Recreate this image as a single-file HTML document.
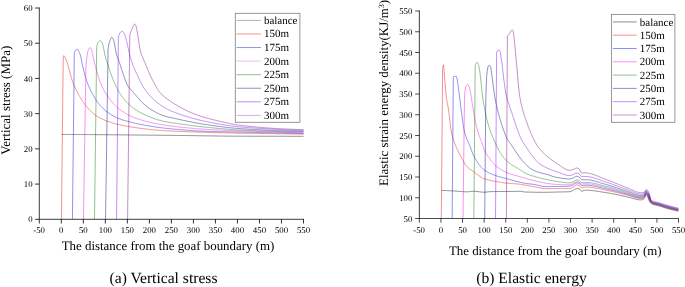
<!DOCTYPE html>
<html lang="en">
<head>
<meta charset="utf-8">
<title>Vertical stress and elastic energy</title>
<style>
html,body{margin:0;padding:0;background:#fff;}
body{width:685px;height:287px;overflow:hidden;}
svg{display:block;text-rendering:geometricPrecision;}
</style>
</head>
<body>
<svg width="685" height="287" viewBox="0 0 685 287" font-family='"Liberation Serif", "DejaVu Serif", serif' fill="#000">
<rect width="685" height="287" fill="#fff"/>
<g fill="none" stroke-width="0.45" stroke-linejoin="round">
<path d="M61.40,134.40 L61.60,134.40 L61.80,134.40 L62.00,134.40 L62.20,134.41 L62.40,134.41 L62.60,134.41 L62.80,134.41 L63.00,134.41 L63.20,134.41 L63.40,134.41 L63.60,134.41 L63.80,134.42 L64.00,134.42 L64.20,134.42 L64.40,134.42 L64.60,134.42 L64.80,134.42 L65.00,134.42 L65.20,134.43 L65.40,134.43 L65.60,134.43 L65.80,134.43 L66.00,134.43 L66.20,134.43 L66.40,134.43 L66.60,134.43 L66.80,134.44 L67.00,134.44 L67.20,134.44 L67.40,134.44 L67.60,134.44 L67.80,134.44 L68.00,134.44 L68.20,134.45 L68.40,134.45 L68.60,134.45 L68.80,134.45 L69.00,134.45 L69.20,134.45 L69.40,134.45 L69.60,134.46 L69.80,134.46 L70.00,134.46 L70.20,134.46 L70.40,134.46 L70.60,134.46 L70.80,134.46 L71.00,134.47 L71.20,134.47 L71.40,134.47 L71.60,134.47 L71.80,134.47 L72.00,134.47 L72.20,134.47 L72.40,134.48 L72.60,134.48 L72.80,134.48 L73.00,134.48 L73.20,134.48 L73.40,134.48 L73.60,134.48 L73.80,134.49 L74.00,134.49 L74.20,134.49 L74.40,134.49 L74.60,134.49 L74.80,134.49 L75.00,134.49 L75.20,134.50 L75.40,134.50 L75.60,134.50 L75.80,134.50 L76.00,134.50 L76.20,134.50 L76.40,134.50 L76.60,134.51 L76.80,134.51 L77.00,134.51 L77.20,134.51 L77.40,134.51 L77.60,134.51 L77.80,134.51 L78.00,134.52 L78.20,134.52 L78.40,134.52 L78.60,134.52 L78.80,134.52 L79.00,134.52 L79.20,134.52 L79.40,134.53 L79.60,134.53 L79.80,134.53 L80.00,134.53 L80.20,134.53 L80.40,134.53 L80.60,134.54 L80.80,134.54 L81.00,134.54 L81.20,134.54 L81.40,134.54 L81.60,134.54 L81.80,134.54 L82.00,134.55 L82.20,134.55 L82.40,134.55 L82.60,134.55 L82.80,134.55 L83.00,134.55 L83.20,134.55 L83.40,134.56 L83.60,134.56 L83.80,134.56 L84.00,134.56 L84.20,134.56 L84.40,134.56 L84.60,134.57 L84.80,134.57 L85.00,134.57 L85.20,134.57 L85.40,134.57 L85.60,134.57 L85.80,134.57 L86.00,134.58 L86.20,134.58 L86.40,134.58 L86.60,134.58 L86.80,134.58 L87.00,134.58 L87.20,134.59 L87.40,134.59 L87.60,134.59 L87.80,134.59 L88.00,134.59 L88.20,134.59 L88.40,134.59 L88.60,134.60 L88.80,134.60 L89.00,134.60 L89.20,134.60 L89.40,134.60 L89.60,134.60 L89.80,134.61 L90.00,134.61 L90.20,134.61 L90.40,134.61 L90.60,134.61 L90.80,134.61 L91.00,134.62 L91.20,134.62 L91.40,134.62 L91.90,134.62 L92.40,134.63 L92.90,134.63 L93.40,134.63 L93.90,134.64 L94.40,134.64 L94.90,134.65 L95.40,134.65 L95.90,134.65 L96.40,134.66 L96.90,134.66 L97.40,134.67 L97.90,134.67 L98.40,134.68 L98.90,134.68 L99.40,134.68 L99.90,134.69 L100.40,134.69 L100.90,134.70 L101.40,134.70 L101.90,134.70 L102.40,134.71 L102.90,134.71 L103.40,134.72 L103.90,134.72 L104.40,134.73 L104.90,134.73 L105.40,134.73 L105.90,134.74 L106.40,134.74 L106.90,134.75 L107.40,134.75 L107.90,134.75 L108.40,134.76 L108.90,134.76 L109.40,134.77 L109.90,134.77 L110.40,134.78 L110.90,134.78 L111.40,134.79 L111.90,134.79 L112.40,134.79 L112.90,134.80 L113.40,134.80 L113.90,134.81 L114.40,134.81 L114.90,134.82 L115.40,134.82 L115.90,134.82 L116.40,134.83 L116.90,134.83 L117.40,134.84 L117.90,134.84 L118.40,134.85 L118.90,134.85 L119.40,134.86 L119.90,134.86 L120.40,134.87 L120.90,134.87 L121.40,134.87 L121.90,134.88 L122.40,134.88 L122.90,134.89 L123.40,134.89 L123.90,134.90 L124.40,134.90 L124.90,134.91 L125.40,134.91 L125.90,134.92 L126.40,134.92 L126.90,134.92 L127.40,134.93 L127.90,134.93 L128.40,134.94 L128.90,134.94 L129.40,134.95 L129.90,134.95 L130.40,134.96 L130.90,134.96 L131.40,134.97 L131.90,134.97 L132.40,134.98 L132.90,134.98 L133.40,134.99 L133.90,134.99 L134.40,134.99 L134.90,135.00 L135.40,135.00 L135.90,135.01 L136.40,135.01 L136.90,135.02 L137.40,135.02 L137.90,135.03 L138.40,135.03 L138.90,135.04 L139.40,135.04 L139.90,135.05 L140.40,135.05 L140.90,135.06 L141.40,135.06 L141.90,135.07 L142.40,135.07 L142.90,135.08 L143.40,135.08 L143.90,135.09 L144.40,135.09 L144.90,135.10 L145.40,135.10 L145.90,135.11 L146.40,135.11 L146.90,135.12 L147.40,135.12 L147.90,135.13 L148.40,135.13 L148.90,135.13 L149.40,135.14 L149.90,135.14 L150.40,135.15 L150.90,135.15 L151.40,135.16 L151.90,135.16 L152.40,135.17 L152.90,135.17 L153.40,135.18 L153.90,135.18 L154.40,135.19 L154.90,135.19 L155.40,135.20 L155.90,135.20 L156.40,135.21 L156.90,135.21 L157.40,135.22 L157.90,135.22 L158.40,135.23 L158.90,135.23 L159.40,135.24 L159.90,135.24 L160.40,135.25 L160.90,135.25 L161.40,135.26 L161.90,135.27 L162.40,135.27 L162.90,135.28 L163.40,135.28 L163.90,135.29 L164.40,135.29 L164.90,135.30 L165.40,135.30 L165.90,135.31 L166.40,135.31 L166.90,135.32 L167.40,135.32 L167.90,135.33 L168.40,135.33 L168.90,135.34 L169.40,135.34 L169.90,135.35 L170.40,135.35 L170.90,135.36 L171.40,135.36 L171.90,135.37 L172.40,135.37 L172.90,135.38 L173.40,135.38 L173.90,135.39 L174.40,135.39 L174.90,135.40 L175.40,135.40 L175.90,135.41 L176.40,135.41 L176.90,135.42 L177.40,135.43 L177.90,135.43 L178.40,135.44 L178.90,135.44 L179.40,135.45 L179.90,135.46 L180.40,135.46 L180.90,135.47 L181.40,135.47 L181.90,135.48 L182.40,135.49 L182.90,135.49 L183.40,135.50 L183.90,135.51 L184.40,135.51 L184.90,135.52 L185.40,135.53 L185.90,135.53 L186.40,135.54 L186.90,135.55 L187.40,135.56 L187.90,135.56 L188.40,135.57 L188.90,135.58 L189.40,135.58 L189.90,135.59 L190.40,135.60 L190.90,135.61 L191.40,135.61 L191.90,135.62 L192.40,135.63 L192.90,135.64 L193.40,135.64 L193.90,135.65 L194.40,135.66 L194.90,135.67 L195.40,135.67 L195.90,135.68 L196.40,135.69 L196.90,135.70 L197.40,135.71 L197.90,135.71 L198.40,135.72 L198.90,135.73 L199.40,135.74 L199.90,135.74 L200.40,135.75 L200.90,135.76 L201.40,135.77 L201.90,135.78 L202.40,135.78 L202.90,135.79 L203.40,135.80 L203.90,135.81 L204.40,135.81 L204.90,135.82 L205.40,135.83 L205.90,135.84 L206.40,135.85 L206.90,135.85 L207.40,135.86 L207.90,135.87 L208.40,135.88 L208.90,135.88 L209.40,135.89 L209.90,135.90 L210.40,135.91 L210.90,135.91 L211.40,135.92 L211.90,135.93 L212.40,135.93 L212.90,135.94 L213.40,135.95 L213.90,135.96 L214.40,135.96 L214.90,135.97 L215.40,135.98 L215.90,135.98 L216.40,135.99 L216.90,136.00 L217.40,136.00 L217.90,136.01 L218.40,136.02 L218.90,136.02 L219.40,136.03 L219.90,136.04 L220.40,136.04 L220.90,136.05 L221.40,136.05 L221.90,136.06 L222.40,136.07 L222.90,136.07 L223.40,136.08 L223.90,136.08 L224.40,136.09 L224.90,136.09 L225.40,136.10 L225.90,136.10 L226.40,136.11 L226.90,136.11 L227.40,136.12 L227.90,136.12 L228.40,136.13 L228.90,136.13 L229.40,136.14 L229.90,136.14 L230.40,136.15 L230.90,136.15 L231.40,136.15 L231.90,136.16 L232.40,136.16 L232.90,136.16 L233.40,136.17 L233.90,136.17 L234.40,136.17 L234.90,136.18 L235.40,136.18 L235.90,136.18 L236.40,136.19 L236.90,136.19 L237.40,136.19 L237.90,136.19 L238.40,136.19 L238.90,136.20 L239.40,136.20 L239.90,136.20 L240.40,136.20 L240.90,136.20 L241.40,136.20 L241.90,136.21 L242.40,136.21 L242.90,136.21 L243.40,136.21 L243.90,136.21 L244.40,136.21 L244.90,136.21 L245.40,136.21 L245.90,136.22 L246.40,136.22 L246.90,136.22 L247.40,136.22 L247.90,136.22 L248.40,136.22 L248.90,136.22 L249.40,136.22 L249.90,136.23 L250.40,136.23 L250.90,136.23 L251.40,136.23 L251.90,136.23 L252.40,136.23 L252.90,136.23 L253.40,136.23 L253.90,136.24 L254.40,136.24 L254.90,136.24 L255.40,136.24 L255.90,136.24 L256.40,136.24 L256.90,136.24 L257.40,136.24 L257.90,136.25 L258.40,136.25 L258.90,136.25 L259.40,136.25 L259.90,136.25 L260.40,136.25 L260.90,136.25 L261.40,136.25 L261.90,136.25 L262.40,136.25 L262.90,136.26 L263.40,136.26 L263.90,136.26 L264.40,136.26 L264.90,136.26 L265.40,136.26 L265.90,136.26 L266.40,136.26 L266.90,136.26 L267.40,136.26 L267.90,136.27 L268.40,136.27 L268.90,136.27 L269.40,136.27 L269.90,136.27 L270.40,136.27 L270.90,136.27 L271.40,136.27 L271.90,136.27 L272.40,136.27 L272.90,136.27 L273.40,136.27 L273.90,136.28 L274.40,136.28 L274.90,136.28 L275.40,136.28 L275.90,136.28 L276.40,136.28 L276.90,136.28 L277.40,136.28 L277.90,136.28 L278.40,136.28 L278.90,136.28 L279.40,136.28 L279.90,136.28 L280.40,136.28 L280.90,136.29 L281.40,136.29 L281.90,136.29 L282.40,136.29 L282.90,136.29 L283.40,136.29 L283.90,136.29 L284.40,136.29 L284.90,136.29 L285.40,136.29 L285.90,136.29 L286.40,136.29 L286.90,136.29 L287.40,136.29 L287.90,136.29 L288.40,136.29 L288.90,136.29 L289.40,136.29 L289.90,136.29 L290.40,136.29 L290.90,136.30 L291.40,136.30 L291.90,136.30 L292.40,136.30 L292.90,136.30 L293.40,136.30 L293.90,136.30 L294.40,136.30 L294.90,136.30 L295.40,136.30 L295.90,136.30 L296.40,136.30 L296.90,136.30 L297.40,136.30 L297.90,136.30 L298.40,136.30 L298.90,136.30 L299.40,136.30 L299.90,136.30 L300.40,136.30 L300.90,136.30 L301.40,136.30 L301.90,136.30 L302.40,136.30 L302.90,136.30 L303.40,136.30 L303.60,136.30" stroke="#000000"/>
<path d="M61.40,219.30 L63.20,60.00 L63.40,57.70 L63.60,55.89 L63.80,55.61 L64.00,55.69 L64.20,55.85 L64.40,56.08 L64.60,56.36 L64.80,56.70 L65.00,57.08 L65.20,57.49 L65.40,57.94 L65.60,58.40 L65.80,58.88 L66.00,59.36 L66.20,59.83 L66.40,60.30 L66.60,60.78 L66.80,61.32 L67.00,61.90 L67.20,62.53 L67.40,63.19 L67.60,63.88 L67.80,64.59 L68.00,65.33 L68.20,66.09 L68.40,66.86 L68.60,67.63 L68.80,68.41 L69.00,69.18 L69.20,69.95 L69.40,70.70 L69.60,71.44 L69.80,72.15 L70.00,72.84 L70.20,73.54 L70.40,74.25 L70.60,74.96 L70.80,75.67 L71.00,76.39 L71.20,77.09 L71.40,77.79 L71.60,78.47 L71.80,79.14 L72.00,79.79 L72.20,80.41 L72.40,81.01 L72.60,81.58 L72.80,82.13 L73.00,82.67 L73.20,83.19 L73.40,83.69 L73.60,84.18 L73.80,84.66 L74.00,85.13 L74.20,85.60 L74.40,86.05 L74.60,86.50 L74.80,86.94 L75.00,87.39 L75.20,87.82 L75.40,88.25 L75.60,88.68 L75.80,89.11 L76.00,89.53 L76.20,89.94 L76.40,90.36 L76.60,90.76 L76.80,91.17 L77.00,91.57 L77.20,91.96 L77.40,92.35 L77.60,92.74 L77.80,93.12 L78.00,93.50 L78.20,93.87 L78.40,94.24 L78.60,94.61 L78.80,94.97 L79.00,95.33 L79.20,95.68 L79.40,96.03 L79.60,96.37 L79.80,96.71 L80.00,97.05 L80.20,97.39 L80.40,97.72 L80.60,98.06 L80.80,98.39 L81.00,98.71 L81.20,99.04 L81.40,99.36 L81.60,99.68 L81.80,99.99 L82.00,100.30 L82.20,100.61 L82.40,100.92 L82.60,101.22 L82.80,101.52 L83.00,101.81 L83.20,102.11 L83.40,102.39 L83.60,102.68 L83.80,102.96 L84.00,103.23 L84.20,103.50 L84.40,103.77 L84.60,104.04 L84.80,104.30 L85.00,104.55 L85.20,104.80 L85.40,105.05 L85.60,105.29 L85.80,105.54 L86.00,105.78 L86.20,106.03 L86.40,106.27 L86.60,106.51 L86.80,106.75 L87.00,106.99 L87.20,107.23 L87.40,107.47 L87.60,107.70 L87.80,107.93 L88.00,108.17 L88.20,108.40 L88.40,108.62 L88.60,108.85 L88.80,109.08 L89.00,109.30 L89.20,109.52 L89.40,109.74 L89.60,109.96 L89.80,110.18 L90.00,110.39 L90.20,110.60 L90.40,110.81 L90.60,111.02 L90.80,111.22 L91.00,111.42 L91.20,111.62 L91.40,111.82 L91.60,112.02 L91.80,112.21 L92.00,112.40 L92.20,112.59 L92.40,112.77 L92.60,112.95 L92.80,113.13 L93.00,113.31 L93.20,113.48 L93.70,113.90 L94.20,114.30 L94.70,114.67 L95.20,115.03 L95.70,115.37 L96.20,115.70 L96.70,116.02 L97.20,116.33 L97.70,116.64 L98.20,116.93 L98.70,117.22 L99.20,117.50 L99.70,117.78 L100.20,118.04 L100.70,118.30 L101.20,118.56 L101.70,118.80 L102.20,119.04 L102.70,119.28 L103.20,119.51 L103.70,119.73 L104.20,119.95 L104.70,120.16 L105.20,120.37 L105.70,120.57 L106.20,120.77 L106.70,120.96 L107.20,121.15 L107.70,121.34 L108.20,121.52 L108.70,121.70 L109.20,121.87 L109.70,122.04 L110.20,122.20 L110.70,122.37 L111.20,122.52 L111.70,122.68 L112.20,122.83 L112.70,122.98 L113.20,123.12 L113.70,123.27 L114.20,123.40 L114.70,123.54 L115.20,123.67 L115.70,123.80 L116.20,123.93 L116.70,124.06 L117.20,124.18 L117.70,124.30 L118.20,124.42 L118.70,124.54 L119.20,124.66 L119.70,124.77 L120.20,124.88 L120.70,124.99 L121.20,125.10 L121.70,125.20 L122.20,125.31 L122.70,125.41 L123.20,125.51 L123.70,125.61 L124.20,125.70 L124.70,125.80 L125.20,125.89 L125.70,125.98 L126.20,126.08 L126.70,126.17 L127.20,126.26 L127.70,126.34 L128.20,126.43 L128.70,126.52 L129.20,126.60 L129.70,126.69 L130.20,126.77 L130.70,126.86 L131.20,126.94 L131.70,127.02 L132.20,127.10 L132.70,127.18 L133.20,127.26 L133.70,127.34 L134.20,127.42 L134.70,127.50 L135.20,127.58 L135.70,127.65 L136.20,127.73 L136.70,127.80 L137.20,127.87 L137.70,127.95 L138.20,128.02 L138.70,128.09 L139.20,128.16 L139.70,128.23 L140.20,128.29 L140.70,128.36 L141.20,128.42 L141.70,128.49 L142.20,128.55 L142.70,128.61 L143.20,128.67 L143.70,128.73 L144.20,128.80 L144.70,128.86 L145.20,128.92 L145.70,128.98 L146.20,129.04 L146.70,129.09 L147.20,129.15 L147.70,129.21 L148.20,129.27 L148.70,129.32 L149.20,129.38 L149.70,129.44 L150.20,129.49 L150.70,129.55 L151.20,129.60 L151.70,129.65 L152.20,129.70 L152.70,129.76 L153.20,129.81 L153.70,129.86 L154.20,129.90 L154.70,129.95 L155.20,130.00 L155.70,130.05 L156.20,130.09 L156.70,130.13 L157.20,130.18 L157.70,130.22 L158.20,130.26 L158.70,130.30 L159.20,130.33 L159.70,130.37 L160.20,130.41 L160.70,130.44 L161.20,130.48 L161.70,130.51 L162.20,130.54 L162.70,130.57 L163.20,130.60 L163.70,130.63 L164.20,130.66 L164.70,130.69 L165.20,130.72 L165.70,130.75 L166.20,130.78 L166.70,130.80 L167.20,130.83 L167.70,130.86 L168.20,130.88 L168.70,130.91 L169.20,130.93 L169.70,130.96 L170.20,130.98 L170.70,131.00 L171.20,131.03 L171.70,131.05 L172.20,131.07 L172.70,131.10 L173.20,131.12 L173.70,131.14 L174.20,131.16 L174.70,131.19 L175.20,131.21 L175.70,131.23 L176.20,131.25 L176.70,131.27 L177.20,131.30 L177.70,131.32 L178.20,131.34 L178.70,131.36 L179.20,131.38 L179.70,131.40 L180.20,131.42 L180.70,131.44 L181.20,131.46 L181.70,131.48 L182.20,131.50 L182.70,131.52 L183.20,131.54 L183.70,131.56 L184.20,131.58 L184.70,131.60 L185.20,131.62 L185.70,131.64 L186.20,131.66 L186.70,131.68 L187.20,131.70 L187.70,131.72 L188.20,131.74 L188.70,131.76 L189.20,131.77 L189.70,131.79 L190.20,131.81 L190.70,131.83 L191.20,131.85 L191.70,131.86 L192.20,131.88 L192.70,131.90 L193.20,131.92 L193.70,131.93 L194.20,131.95 L194.70,131.97 L195.20,131.99 L195.70,132.00 L196.20,132.02 L196.70,132.04 L197.20,132.05 L197.70,132.07 L198.20,132.09 L198.70,132.10 L199.20,132.12 L199.70,132.13 L200.20,132.15 L200.70,132.17 L201.20,132.18 L201.70,132.20 L202.20,132.21 L202.70,132.23 L203.20,132.24 L203.70,132.26 L204.20,132.28 L204.70,132.29 L205.20,132.31 L205.70,132.32 L206.20,132.34 L206.70,132.35 L207.20,132.37 L207.70,132.38 L208.20,132.40 L208.70,132.41 L209.20,132.43 L209.70,132.44 L210.20,132.46 L210.70,132.47 L211.20,132.49 L211.70,132.50 L212.20,132.51 L212.70,132.53 L213.20,132.54 L213.70,132.56 L214.20,132.57 L214.70,132.59 L215.20,132.60 L215.70,132.62 L216.20,132.63 L216.70,132.64 L217.20,132.66 L217.70,132.67 L218.20,132.69 L218.70,132.70 L219.20,132.71 L219.70,132.73 L220.20,132.74 L220.70,132.75 L221.20,132.77 L221.70,132.78 L222.20,132.79 L222.70,132.81 L223.20,132.82 L223.70,132.83 L224.20,132.85 L224.70,132.86 L225.20,132.87 L225.70,132.88 L226.20,132.90 L226.70,132.91 L227.20,132.92 L227.70,132.93 L228.20,132.95 L228.70,132.96 L229.20,132.97 L229.70,132.98 L230.20,132.99 L230.70,133.01 L231.20,133.02 L231.70,133.03 L232.20,133.04 L232.70,133.05 L233.20,133.06 L233.70,133.07 L234.20,133.08 L234.70,133.09 L235.20,133.11 L235.70,133.12 L236.20,133.13 L236.70,133.14 L237.20,133.15 L237.70,133.16 L238.20,133.17 L238.70,133.18 L239.20,133.19 L239.70,133.19 L240.20,133.20 L240.70,133.21 L241.20,133.22 L241.70,133.23 L242.20,133.24 L242.70,133.25 L243.20,133.26 L243.70,133.26 L244.20,133.27 L244.70,133.28 L245.20,133.29 L245.70,133.30 L246.20,133.31 L246.70,133.31 L247.20,133.32 L247.70,133.33 L248.20,133.34 L248.70,133.34 L249.20,133.35 L249.70,133.36 L250.20,133.37 L250.70,133.37 L251.20,133.38 L251.70,133.39 L252.20,133.39 L252.70,133.40 L253.20,133.41 L253.70,133.41 L254.20,133.42 L254.70,133.43 L255.20,133.43 L255.70,133.44 L256.20,133.45 L256.70,133.45 L257.20,133.46 L257.70,133.46 L258.20,133.47 L258.70,133.48 L259.20,133.48 L259.70,133.49 L260.20,133.50 L260.70,133.50 L261.20,133.51 L261.70,133.51 L262.20,133.52 L262.70,133.53 L263.20,133.53 L263.70,133.54 L264.20,133.54 L264.70,133.55 L265.20,133.56 L265.70,133.56 L266.20,133.57 L266.70,133.57 L267.20,133.58 L267.70,133.59 L268.20,133.59 L268.70,133.60 L269.20,133.60 L269.70,133.61 L270.20,133.62 L270.70,133.62 L271.20,133.63 L271.70,133.63 L272.20,133.64 L272.70,133.65 L273.20,133.65 L273.70,133.66 L274.20,133.67 L274.70,133.67 L275.20,133.68 L275.70,133.68 L276.20,133.69 L276.70,133.70 L277.20,133.70 L277.70,133.71 L278.20,133.72 L278.70,133.72 L279.20,133.73 L279.70,133.74 L280.20,133.75 L280.70,133.75 L281.20,133.76 L281.70,133.77 L282.20,133.77 L282.70,133.78 L283.20,133.79 L283.70,133.80 L284.20,133.80 L284.70,133.81 L285.20,133.82 L285.70,133.83 L286.20,133.84 L286.70,133.84 L287.20,133.85 L287.70,133.86 L288.20,133.87 L288.70,133.88 L289.20,133.89 L289.70,133.89 L290.20,133.90 L290.70,133.91 L291.20,133.92 L291.70,133.93 L292.20,133.94 L292.70,133.95 L293.20,133.96 L293.70,133.97 L294.20,133.98 L294.70,133.99 L295.20,134.00 L295.70,134.02 L296.20,134.03 L296.70,134.04 L297.20,134.05 L297.70,134.06 L298.20,134.07 L298.70,134.08 L299.20,134.10 L299.70,134.11 L300.20,134.12 L300.70,134.13 L301.20,134.14 L301.70,134.15 L302.20,134.17 L302.70,134.18 L303.20,134.19 L303.60,134.20" stroke="#e60a0a"/>
<path d="M72.43,219.30 L74.30,53.50 L74.50,52.78 L74.70,52.09 L74.90,51.45 L75.10,50.91 L75.30,50.48 L75.50,50.20 L75.70,50.00 L75.90,49.82 L76.10,49.66 L76.30,49.52 L76.50,49.40 L76.70,49.30 L76.90,49.24 L77.10,49.20 L77.30,49.22 L77.50,49.33 L77.70,49.54 L77.90,49.82 L78.10,50.16 L78.30,50.54 L78.50,50.93 L78.70,51.31 L78.90,51.68 L79.10,52.07 L79.30,52.47 L79.50,52.91 L79.70,53.38 L79.90,53.88 L80.10,54.43 L80.30,55.02 L80.50,55.66 L80.70,56.38 L80.90,57.31 L81.10,58.40 L81.30,59.56 L81.50,60.73 L81.70,61.81 L81.90,62.76 L82.10,63.64 L82.30,64.48 L82.50,65.30 L82.70,66.10 L82.90,66.90 L83.10,67.71 L83.30,68.52 L83.50,69.35 L83.70,70.17 L83.90,71.00 L84.10,71.82 L84.30,72.63 L84.50,73.43 L84.70,74.22 L84.90,74.99 L85.10,75.73 L85.30,76.45 L85.50,77.14 L85.70,77.80 L85.90,78.43 L86.10,79.06 L86.30,79.67 L86.50,80.27 L86.70,80.86 L86.90,81.44 L87.10,82.01 L87.30,82.57 L87.50,83.12 L87.70,83.66 L87.90,84.19 L88.10,84.71 L88.30,85.22 L88.50,85.72 L88.70,86.21 L88.90,86.69 L89.10,87.17 L89.30,87.63 L89.50,88.09 L89.70,88.54 L89.90,88.98 L90.10,89.42 L90.30,89.84 L90.50,90.26 L90.70,90.67 L90.90,91.08 L91.10,91.47 L91.30,91.87 L91.50,92.25 L91.70,92.63 L91.90,93.01 L92.10,93.38 L92.30,93.74 L92.50,94.10 L92.70,94.46 L92.90,94.81 L93.10,95.16 L93.30,95.50 L93.50,95.84 L93.70,96.18 L93.90,96.51 L94.10,96.85 L94.30,97.18 L94.50,97.50 L94.70,97.83 L94.90,98.15 L95.10,98.48 L95.30,98.80 L95.50,99.12 L95.70,99.44 L95.90,99.76 L96.10,100.08 L96.30,100.39 L96.50,100.70 L96.70,101.01 L96.90,101.31 L97.10,101.60 L97.30,101.90 L97.50,102.18 L97.70,102.46 L97.90,102.73 L98.10,103.00 L98.30,103.25 L98.50,103.50 L98.70,103.74 L98.90,103.98 L99.10,104.22 L99.30,104.46 L99.50,104.69 L99.70,104.92 L99.90,105.15 L100.10,105.38 L100.30,105.60 L100.50,105.83 L100.70,106.05 L100.90,106.26 L101.10,106.48 L101.30,106.69 L101.50,106.91 L101.70,107.12 L101.90,107.32 L102.10,107.53 L102.30,107.73 L102.50,107.93 L102.70,108.13 L102.90,108.33 L103.10,108.52 L103.30,108.71 L103.50,108.90 L103.70,109.09 L103.90,109.27 L104.10,109.45 L104.30,109.63 L104.80,110.07 L105.30,110.49 L105.80,110.90 L106.30,111.30 L106.80,111.67 L107.30,112.04 L107.80,112.41 L108.30,112.76 L108.80,113.11 L109.30,113.46 L109.80,113.79 L110.30,114.12 L110.80,114.45 L111.30,114.76 L111.80,115.07 L112.30,115.37 L112.80,115.67 L113.30,115.96 L113.80,116.23 L114.30,116.51 L114.80,116.77 L115.30,117.02 L115.80,117.27 L116.30,117.51 L116.80,117.74 L117.30,117.96 L117.80,118.18 L118.30,118.38 L118.80,118.58 L119.30,118.77 L119.80,118.96 L120.30,119.14 L120.80,119.31 L121.30,119.48 L121.80,119.65 L122.30,119.81 L122.80,119.97 L123.30,120.12 L123.80,120.27 L124.30,120.42 L124.80,120.56 L125.30,120.70 L125.80,120.84 L126.30,120.98 L126.80,121.12 L127.30,121.25 L127.80,121.39 L128.30,121.52 L128.80,121.65 L129.30,121.79 L129.80,121.92 L130.30,122.05 L130.80,122.17 L131.30,122.30 L131.80,122.43 L132.30,122.55 L132.80,122.67 L133.30,122.79 L133.80,122.91 L134.30,123.03 L134.80,123.15 L135.30,123.27 L135.80,123.38 L136.30,123.49 L136.80,123.61 L137.30,123.72 L137.80,123.83 L138.30,123.93 L138.80,124.04 L139.30,124.14 L139.80,124.25 L140.30,124.35 L140.80,124.45 L141.30,124.55 L141.80,124.65 L142.30,124.74 L142.80,124.84 L143.30,124.93 L143.80,125.03 L144.30,125.12 L144.80,125.21 L145.30,125.30 L145.80,125.39 L146.30,125.48 L146.80,125.57 L147.30,125.66 L147.80,125.74 L148.30,125.83 L148.80,125.91 L149.30,126.00 L149.80,126.08 L150.30,126.16 L150.80,126.25 L151.30,126.33 L151.80,126.41 L152.30,126.49 L152.80,126.56 L153.30,126.64 L153.80,126.72 L154.30,126.79 L154.80,126.87 L155.30,126.94 L155.80,127.01 L156.30,127.09 L156.80,127.16 L157.30,127.23 L157.80,127.30 L158.30,127.36 L158.80,127.43 L159.30,127.50 L159.80,127.56 L160.30,127.63 L160.80,127.69 L161.30,127.75 L161.80,127.81 L162.30,127.87 L162.80,127.94 L163.30,128.00 L163.80,128.05 L164.30,128.11 L164.80,128.17 L165.30,128.23 L165.80,128.28 L166.30,128.34 L166.80,128.40 L167.30,128.45 L167.80,128.50 L168.30,128.56 L168.80,128.61 L169.30,128.66 L169.80,128.71 L170.30,128.76 L170.80,128.81 L171.30,128.86 L171.80,128.91 L172.30,128.96 L172.80,129.00 L173.30,129.05 L173.80,129.09 L174.30,129.14 L174.80,129.18 L175.30,129.23 L175.80,129.27 L176.30,129.31 L176.80,129.36 L177.30,129.40 L177.80,129.44 L178.30,129.49 L178.80,129.53 L179.30,129.57 L179.80,129.62 L180.30,129.66 L180.80,129.70 L181.30,129.74 L181.80,129.79 L182.30,129.83 L182.80,129.87 L183.30,129.91 L183.80,129.95 L184.30,130.00 L184.80,130.04 L185.30,130.08 L185.80,130.12 L186.30,130.16 L186.80,130.20 L187.30,130.24 L187.80,130.28 L188.30,130.32 L188.80,130.35 L189.30,130.39 L189.80,130.43 L190.30,130.47 L190.80,130.50 L191.30,130.54 L191.80,130.58 L192.30,130.61 L192.80,130.65 L193.30,130.68 L193.80,130.71 L194.30,130.75 L194.80,130.78 L195.30,130.81 L195.80,130.84 L196.30,130.87 L196.80,130.91 L197.30,130.93 L197.80,130.96 L198.30,130.99 L198.80,131.02 L199.30,131.05 L199.80,131.07 L200.30,131.10 L200.80,131.12 L201.30,131.15 L201.80,131.17 L202.30,131.19 L202.80,131.21 L203.30,131.24 L203.80,131.26 L204.30,131.27 L204.80,131.29 L205.30,131.31 L205.80,131.33 L206.30,131.34 L206.80,131.36 L207.30,131.38 L207.80,131.39 L208.30,131.41 L208.80,131.42 L209.30,131.44 L209.80,131.45 L210.30,131.47 L210.80,131.48 L211.30,131.50 L211.80,131.51 L212.30,131.52 L212.80,131.54 L213.30,131.55 L213.80,131.56 L214.30,131.57 L214.80,131.59 L215.30,131.60 L215.80,131.61 L216.30,131.62 L216.80,131.63 L217.30,131.64 L217.80,131.66 L218.30,131.67 L218.80,131.68 L219.30,131.69 L219.80,131.70 L220.30,131.71 L220.80,131.72 L221.30,131.73 L221.80,131.74 L222.30,131.75 L222.80,131.76 L223.30,131.77 L223.80,131.78 L224.30,131.79 L224.80,131.80 L225.30,131.81 L225.80,131.82 L226.30,131.83 L226.80,131.84 L227.30,131.85 L227.80,131.86 L228.30,131.87 L228.80,131.88 L229.30,131.88 L229.80,131.89 L230.30,131.90 L230.80,131.91 L231.30,131.92 L231.80,131.93 L232.30,131.94 L232.80,131.95 L233.30,131.96 L233.80,131.97 L234.30,131.98 L234.80,131.99 L235.30,132.00 L235.80,132.01 L236.30,132.02 L236.80,132.03 L237.30,132.04 L237.80,132.05 L238.30,132.06 L238.80,132.07 L239.30,132.08 L239.80,132.10 L240.30,132.11 L240.80,132.12 L241.30,132.13 L241.80,132.14 L242.30,132.15 L242.80,132.16 L243.30,132.17 L243.80,132.19 L244.30,132.20 L244.80,132.21 L245.30,132.22 L245.80,132.23 L246.30,132.24 L246.80,132.25 L247.30,132.26 L247.80,132.27 L248.30,132.29 L248.80,132.30 L249.30,132.31 L249.80,132.32 L250.30,132.33 L250.80,132.34 L251.30,132.35 L251.80,132.36 L252.30,132.37 L252.80,132.38 L253.30,132.40 L253.80,132.41 L254.30,132.42 L254.80,132.43 L255.30,132.44 L255.80,132.45 L256.30,132.46 L256.80,132.47 L257.30,132.48 L257.80,132.49 L258.30,132.51 L258.80,132.52 L259.30,132.53 L259.80,132.54 L260.30,132.55 L260.80,132.56 L261.30,132.57 L261.80,132.58 L262.30,132.59 L262.80,132.60 L263.30,132.62 L263.80,132.63 L264.30,132.64 L264.80,132.65 L265.30,132.66 L265.80,132.67 L266.30,132.68 L266.80,132.69 L267.30,132.70 L267.80,132.71 L268.30,132.72 L268.80,132.74 L269.30,132.75 L269.80,132.76 L270.30,132.77 L270.80,132.78 L271.30,132.79 L271.80,132.80 L272.30,132.81 L272.80,132.82 L273.30,132.83 L273.80,132.84 L274.30,132.86 L274.80,132.87 L275.30,132.88 L275.80,132.89 L276.30,132.90 L276.80,132.91 L277.30,132.92 L277.80,132.93 L278.30,132.94 L278.80,132.95 L279.30,132.97 L279.80,132.98 L280.30,132.99 L280.80,133.00 L281.30,133.01 L281.80,133.02 L282.30,133.03 L282.80,133.04 L283.30,133.05 L283.80,133.06 L284.30,133.07 L284.80,133.09 L285.30,133.10 L285.80,133.11 L286.30,133.12 L286.80,133.13 L287.30,133.14 L287.80,133.15 L288.30,133.16 L288.80,133.17 L289.30,133.18 L289.80,133.20 L290.30,133.21 L290.80,133.22 L291.30,133.23 L291.80,133.24 L292.30,133.25 L292.80,133.26 L293.30,133.27 L293.80,133.28 L294.30,133.29 L294.80,133.31 L295.30,133.32 L295.80,133.33 L296.30,133.34 L296.80,133.35 L297.30,133.36 L297.80,133.37 L298.30,133.38 L298.80,133.39 L299.30,133.41 L299.80,133.42 L300.30,133.43 L300.80,133.44 L301.30,133.45 L301.80,133.46 L302.30,133.47 L302.80,133.48 L303.30,133.49 L303.60,133.50" stroke="#0a0ae0"/>
<path d="M83.46,219.30 L85.90,68.00 L86.10,65.45 L86.30,63.03 L86.50,60.78 L86.70,58.72 L86.90,56.88 L87.10,55.30 L87.30,54.02 L87.50,53.03 L87.70,52.17 L87.90,51.39 L88.10,50.71 L88.30,50.11 L88.50,49.60 L88.70,49.18 L88.90,48.83 L89.10,48.50 L89.30,48.19 L89.50,47.92 L89.70,47.72 L89.90,47.61 L90.10,47.62 L90.30,47.74 L90.50,47.98 L90.70,48.29 L90.90,48.66 L91.10,49.08 L91.30,49.50 L91.50,50.01 L91.70,50.68 L91.90,51.46 L92.10,52.32 L92.30,53.22 L92.50,54.12 L92.70,55.00 L92.90,55.88 L93.10,56.81 L93.30,57.77 L93.50,58.72 L93.70,59.64 L93.90,60.50 L94.10,61.32 L94.30,62.11 L94.50,62.89 L94.70,63.65 L94.90,64.39 L95.10,65.12 L95.30,65.84 L95.50,66.55 L95.70,67.25 L95.90,67.95 L96.10,68.65 L96.30,69.35 L96.50,70.05 L96.70,70.76 L96.90,71.46 L97.10,72.17 L97.30,72.88 L97.50,73.59 L97.70,74.29 L97.90,74.99 L98.10,75.68 L98.30,76.37 L98.50,77.04 L98.70,77.71 L98.90,78.36 L99.10,79.00 L99.30,79.63 L99.50,80.24 L99.70,80.83 L99.90,81.41 L100.10,81.96 L100.30,82.49 L100.50,83.00 L100.70,83.49 L100.90,83.97 L101.10,84.45 L101.30,84.91 L101.50,85.37 L101.70,85.81 L101.90,86.25 L102.10,86.68 L102.30,87.10 L102.50,87.52 L102.70,87.93 L102.90,88.33 L103.10,88.72 L103.30,89.11 L103.50,89.49 L103.70,89.87 L103.90,90.23 L104.10,90.60 L104.30,90.96 L104.50,91.31 L104.70,91.66 L104.90,92.00 L105.10,92.34 L105.30,92.68 L105.50,93.01 L105.70,93.34 L105.90,93.66 L106.10,93.98 L106.30,94.30 L106.50,94.61 L106.70,94.92 L106.90,95.22 L107.10,95.52 L107.30,95.81 L107.50,96.10 L107.70,96.39 L107.90,96.67 L108.10,96.95 L108.30,97.23 L108.50,97.50 L108.70,97.77 L108.90,98.04 L109.10,98.30 L109.30,98.56 L109.50,98.82 L109.70,99.08 L109.90,99.33 L110.10,99.58 L110.30,99.83 L110.50,100.07 L110.70,100.32 L110.90,100.56 L111.10,100.80 L111.30,101.04 L111.50,101.28 L111.70,101.51 L111.90,101.75 L112.10,101.98 L112.30,102.21 L112.50,102.44 L112.70,102.67 L112.90,102.90 L113.10,103.13 L113.30,103.35 L113.50,103.58 L113.70,103.80 L113.90,104.02 L114.10,104.24 L114.30,104.45 L114.50,104.67 L114.70,104.88 L114.90,105.09 L115.10,105.30 L115.30,105.50 L115.50,105.70 L115.70,105.90 L115.90,106.10 L116.40,106.59 L116.90,107.05 L117.40,107.50 L117.90,107.93 L118.40,108.35 L118.90,108.75 L119.40,109.15 L119.90,109.54 L120.40,109.93 L120.90,110.30 L121.40,110.67 L121.90,111.03 L122.40,111.39 L122.90,111.74 L123.40,112.07 L123.90,112.41 L124.40,112.73 L124.90,113.04 L125.40,113.35 L125.90,113.65 L126.40,113.93 L126.90,114.22 L127.40,114.49 L127.90,114.75 L128.40,115.00 L128.90,115.25 L129.40,115.49 L129.90,115.72 L130.40,115.95 L130.90,116.18 L131.40,116.40 L131.90,116.62 L132.40,116.83 L132.90,117.04 L133.40,117.25 L133.90,117.45 L134.40,117.64 L134.90,117.84 L135.40,118.03 L135.90,118.21 L136.40,118.40 L136.90,118.58 L137.40,118.75 L137.90,118.93 L138.40,119.09 L138.90,119.26 L139.40,119.42 L139.90,119.58 L140.40,119.74 L140.90,119.90 L141.40,120.05 L141.90,120.20 L142.40,120.34 L142.90,120.49 L143.40,120.63 L143.90,120.77 L144.40,120.91 L144.90,121.04 L145.40,121.18 L145.90,121.31 L146.40,121.44 L146.90,121.57 L147.40,121.70 L147.90,121.83 L148.40,121.95 L148.90,122.07 L149.40,122.19 L149.90,122.31 L150.40,122.43 L150.90,122.55 L151.40,122.66 L151.90,122.77 L152.40,122.89 L152.90,123.00 L153.40,123.10 L153.90,123.21 L154.40,123.31 L154.90,123.42 L155.40,123.52 L155.90,123.62 L156.40,123.72 L156.90,123.82 L157.40,123.91 L157.90,124.00 L158.40,124.10 L158.90,124.19 L159.40,124.28 L159.90,124.37 L160.40,124.45 L160.90,124.54 L161.40,124.62 L161.90,124.70 L162.40,124.79 L162.90,124.87 L163.40,124.94 L163.90,125.02 L164.40,125.10 L164.90,125.18 L165.40,125.25 L165.90,125.32 L166.40,125.40 L166.90,125.47 L167.40,125.54 L167.90,125.61 L168.40,125.68 L168.90,125.74 L169.40,125.81 L169.90,125.88 L170.40,125.94 L170.90,126.00 L171.40,126.07 L171.90,126.13 L172.40,126.19 L172.90,126.25 L173.40,126.31 L173.90,126.37 L174.40,126.43 L174.90,126.49 L175.40,126.55 L175.90,126.60 L176.40,126.66 L176.90,126.72 L177.40,126.77 L177.90,126.83 L178.40,126.89 L178.90,126.94 L179.40,127.00 L179.90,127.05 L180.40,127.11 L180.90,127.16 L181.40,127.22 L181.90,127.27 L182.40,127.32 L182.90,127.38 L183.40,127.43 L183.90,127.48 L184.40,127.54 L184.90,127.59 L185.40,127.64 L185.90,127.69 L186.40,127.74 L186.90,127.79 L187.40,127.84 L187.90,127.89 L188.40,127.94 L188.90,127.99 L189.40,128.04 L189.90,128.09 L190.40,128.14 L190.90,128.18 L191.40,128.23 L191.90,128.28 L192.40,128.32 L192.90,128.37 L193.40,128.41 L193.90,128.46 L194.40,128.50 L194.90,128.55 L195.40,128.59 L195.90,128.63 L196.40,128.67 L196.90,128.71 L197.40,128.75 L197.90,128.80 L198.40,128.83 L198.90,128.87 L199.40,128.91 L199.90,128.95 L200.40,128.99 L200.90,129.02 L201.40,129.06 L201.90,129.10 L202.40,129.13 L202.90,129.16 L203.40,129.20 L203.90,129.23 L204.40,129.26 L204.90,129.29 L205.40,129.32 L205.90,129.36 L206.40,129.39 L206.90,129.42 L207.40,129.44 L207.90,129.47 L208.40,129.50 L208.90,129.53 L209.40,129.56 L209.90,129.59 L210.40,129.61 L210.90,129.64 L211.40,129.67 L211.90,129.70 L212.40,129.72 L212.90,129.75 L213.40,129.77 L213.90,129.80 L214.40,129.83 L214.90,129.85 L215.40,129.88 L215.90,129.90 L216.40,129.92 L216.90,129.95 L217.40,129.97 L217.90,130.00 L218.40,130.02 L218.90,130.04 L219.40,130.07 L219.90,130.09 L220.40,130.11 L220.90,130.13 L221.40,130.16 L221.90,130.18 L222.40,130.20 L222.90,130.22 L223.40,130.24 L223.90,130.26 L224.40,130.29 L224.90,130.31 L225.40,130.33 L225.90,130.35 L226.40,130.37 L226.90,130.39 L227.40,130.41 L227.90,130.43 L228.40,130.45 L228.90,130.47 L229.40,130.49 L229.90,130.51 L230.40,130.53 L230.90,130.55 L231.40,130.57 L231.90,130.59 L232.40,130.61 L232.90,130.63 L233.40,130.65 L233.90,130.67 L234.40,130.69 L234.90,130.71 L235.40,130.72 L235.90,130.74 L236.40,130.76 L236.90,130.78 L237.40,130.80 L237.90,130.82 L238.40,130.84 L238.90,130.86 L239.40,130.88 L239.90,130.90 L240.40,130.92 L240.90,130.93 L241.40,130.95 L241.90,130.97 L242.40,130.99 L242.90,131.01 L243.40,131.03 L243.90,131.05 L244.40,131.07 L244.90,131.08 L245.40,131.10 L245.90,131.12 L246.40,131.14 L246.90,131.16 L247.40,131.18 L247.90,131.19 L248.40,131.21 L248.90,131.23 L249.40,131.25 L249.90,131.27 L250.40,131.28 L250.90,131.30 L251.40,131.32 L251.90,131.34 L252.40,131.35 L252.90,131.37 L253.40,131.39 L253.90,131.41 L254.40,131.42 L254.90,131.44 L255.40,131.46 L255.90,131.48 L256.40,131.49 L256.90,131.51 L257.40,131.53 L257.90,131.55 L258.40,131.56 L258.90,131.58 L259.40,131.60 L259.90,131.61 L260.40,131.63 L260.90,131.65 L261.40,131.66 L261.90,131.68 L262.40,131.70 L262.90,131.71 L263.40,131.73 L263.90,131.74 L264.40,131.76 L264.90,131.78 L265.40,131.79 L265.90,131.81 L266.40,131.82 L266.90,131.84 L267.40,131.86 L267.90,131.87 L268.40,131.89 L268.90,131.90 L269.40,131.92 L269.90,131.93 L270.40,131.95 L270.90,131.97 L271.40,131.98 L271.90,132.00 L272.40,132.01 L272.90,132.03 L273.40,132.04 L273.90,132.06 L274.40,132.07 L274.90,132.09 L275.40,132.10 L275.90,132.12 L276.40,132.13 L276.90,132.14 L277.40,132.16 L277.90,132.17 L278.40,132.19 L278.90,132.20 L279.40,132.22 L279.90,132.23 L280.40,132.24 L280.90,132.26 L281.40,132.27 L281.90,132.29 L282.40,132.30 L282.90,132.31 L283.40,132.33 L283.90,132.34 L284.40,132.35 L284.90,132.37 L285.40,132.38 L285.90,132.39 L286.40,132.41 L286.90,132.42 L287.40,132.43 L287.90,132.45 L288.40,132.46 L288.90,132.47 L289.40,132.48 L289.90,132.50 L290.40,132.51 L290.90,132.52 L291.40,132.53 L291.90,132.55 L292.40,132.56 L292.90,132.57 L293.40,132.58 L293.90,132.59 L294.40,132.61 L294.90,132.62 L295.40,132.63 L295.90,132.64 L296.40,132.65 L296.90,132.66 L297.40,132.67 L297.90,132.68 L298.40,132.69 L298.90,132.70 L299.40,132.71 L299.90,132.72 L300.40,132.74 L300.90,132.75 L301.40,132.76 L301.90,132.77 L302.40,132.78 L302.90,132.79 L303.40,132.80 L303.60,132.80" stroke="#ea0aea"/>
<path d="M94.49,219.30 L96.70,47.40 L96.90,46.43 L97.10,45.48 L97.30,44.58 L97.50,43.79 L97.70,43.13 L97.90,42.66 L98.10,42.37 L98.30,42.13 L98.50,41.91 L98.70,41.70 L98.90,41.51 L99.10,41.34 L99.30,41.19 L99.50,41.06 L99.70,40.95 L99.90,40.86 L100.10,40.80 L100.30,40.76 L100.50,40.75 L100.70,40.79 L100.90,40.90 L101.10,41.08 L101.30,41.31 L101.50,41.60 L101.70,41.93 L101.90,42.29 L102.10,42.68 L102.30,43.08 L102.50,43.50 L102.70,44.02 L102.90,44.71 L103.10,45.55 L103.30,46.50 L103.50,47.55 L103.70,48.65 L103.90,49.79 L104.10,50.94 L104.30,52.06 L104.50,53.13 L104.70,54.12 L104.90,55.00 L105.10,55.81 L105.30,56.61 L105.50,57.38 L105.70,58.14 L105.90,58.87 L106.10,59.58 L106.30,60.25 L106.50,60.89 L106.70,61.50 L106.90,62.05 L107.10,62.55 L107.30,63.04 L107.50,63.54 L107.70,64.07 L107.90,64.64 L108.10,65.21 L108.30,65.81 L108.50,66.41 L108.70,67.02 L108.90,67.65 L109.10,68.27 L109.30,68.90 L109.50,69.53 L109.70,70.16 L109.90,70.78 L110.10,71.39 L110.30,72.00 L110.50,72.60 L110.70,73.18 L110.90,73.75 L111.10,74.30 L111.30,74.84 L111.50,75.37 L111.70,75.90 L111.90,76.43 L112.10,76.95 L112.30,77.47 L112.50,77.98 L112.70,78.49 L112.90,78.99 L113.10,79.49 L113.30,79.98 L113.50,80.47 L113.70,80.95 L113.90,81.43 L114.10,81.90 L114.30,82.36 L114.50,82.82 L114.70,83.27 L114.90,83.72 L115.10,84.15 L115.30,84.59 L115.50,85.01 L115.70,85.44 L115.90,85.86 L116.10,86.28 L116.30,86.69 L116.50,87.10 L116.70,87.51 L116.90,87.92 L117.10,88.32 L117.30,88.72 L117.50,89.12 L117.70,89.51 L117.90,89.89 L118.10,90.28 L118.30,90.65 L118.50,91.02 L118.70,91.39 L118.90,91.75 L119.10,92.10 L119.30,92.45 L119.50,92.79 L119.70,93.13 L119.90,93.46 L120.10,93.78 L120.30,94.09 L120.50,94.40 L120.70,94.70 L120.90,94.99 L121.10,95.28 L121.30,95.57 L121.50,95.85 L121.70,96.14 L121.90,96.41 L122.10,96.69 L122.30,96.96 L122.50,97.23 L122.70,97.49 L122.90,97.76 L123.10,98.02 L123.30,98.27 L123.50,98.53 L123.70,98.78 L123.90,99.02 L124.10,99.27 L124.30,99.51 L124.50,99.75 L124.70,99.99 L124.90,100.22 L125.10,100.46 L125.30,100.68 L125.50,100.91 L125.70,101.13 L125.90,101.35 L126.10,101.57 L126.30,101.79 L126.50,102.00 L126.70,102.21 L127.20,102.73 L127.70,103.23 L128.20,103.72 L128.70,104.19 L129.20,104.66 L129.70,105.11 L130.20,105.55 L130.70,105.98 L131.20,106.40 L131.70,106.82 L132.20,107.22 L132.70,107.61 L133.20,108.00 L133.70,108.37 L134.20,108.74 L134.70,109.09 L135.20,109.44 L135.70,109.78 L136.20,110.11 L136.70,110.43 L137.20,110.74 L137.70,111.04 L138.20,111.34 L138.70,111.64 L139.20,111.93 L139.70,112.21 L140.20,112.49 L140.70,112.77 L141.20,113.04 L141.70,113.30 L142.20,113.56 L142.70,113.82 L143.20,114.07 L143.70,114.32 L144.20,114.56 L144.70,114.80 L145.20,115.03 L145.70,115.26 L146.20,115.49 L146.70,115.71 L147.20,115.92 L147.70,116.13 L148.20,116.34 L148.70,116.55 L149.20,116.74 L149.70,116.94 L150.20,117.13 L150.70,117.32 L151.20,117.51 L151.70,117.70 L152.20,117.88 L152.70,118.06 L153.20,118.24 L153.70,118.42 L154.20,118.60 L154.70,118.77 L155.20,118.94 L155.70,119.11 L156.20,119.27 L156.70,119.43 L157.20,119.59 L157.70,119.74 L158.20,119.90 L158.70,120.05 L159.20,120.19 L159.70,120.33 L160.20,120.47 L160.70,120.60 L161.20,120.73 L161.70,120.86 L162.20,120.98 L162.70,121.10 L163.20,121.21 L163.70,121.32 L164.20,121.43 L164.70,121.53 L165.20,121.63 L165.70,121.72 L166.20,121.82 L166.70,121.91 L167.20,122.00 L167.70,122.08 L168.20,122.17 L168.70,122.25 L169.20,122.33 L169.70,122.41 L170.20,122.49 L170.70,122.56 L171.20,122.64 L171.70,122.71 L172.20,122.79 L172.70,122.86 L173.20,122.93 L173.70,123.01 L174.20,123.08 L174.70,123.16 L175.20,123.23 L175.70,123.30 L176.20,123.38 L176.70,123.45 L177.20,123.53 L177.70,123.60 L178.20,123.67 L178.70,123.75 L179.20,123.82 L179.70,123.89 L180.20,123.96 L180.70,124.04 L181.20,124.11 L181.70,124.18 L182.20,124.25 L182.70,124.32 L183.20,124.39 L183.70,124.46 L184.20,124.53 L184.70,124.60 L185.20,124.67 L185.70,124.74 L186.20,124.81 L186.70,124.88 L187.20,124.95 L187.70,125.02 L188.20,125.09 L188.70,125.15 L189.20,125.22 L189.70,125.29 L190.20,125.35 L190.70,125.42 L191.20,125.48 L191.70,125.55 L192.20,125.61 L192.70,125.68 L193.20,125.74 L193.70,125.80 L194.20,125.87 L194.70,125.93 L195.20,125.99 L195.70,126.05 L196.20,126.11 L196.70,126.17 L197.20,126.23 L197.70,126.29 L198.20,126.35 L198.70,126.41 L199.20,126.47 L199.70,126.53 L200.20,126.58 L200.70,126.64 L201.20,126.70 L201.70,126.75 L202.20,126.81 L202.70,126.86 L203.20,126.91 L203.70,126.97 L204.20,127.02 L204.70,127.07 L205.20,127.12 L205.70,127.17 L206.20,127.22 L206.70,127.27 L207.20,127.32 L207.70,127.37 L208.20,127.42 L208.70,127.47 L209.20,127.52 L209.70,127.57 L210.20,127.62 L210.70,127.67 L211.20,127.72 L211.70,127.77 L212.20,127.82 L212.70,127.87 L213.20,127.92 L213.70,127.96 L214.20,128.01 L214.70,128.06 L215.20,128.11 L215.70,128.16 L216.20,128.20 L216.70,128.25 L217.20,128.30 L217.70,128.34 L218.20,128.39 L218.70,128.43 L219.20,128.48 L219.70,128.52 L220.20,128.57 L220.70,128.61 L221.20,128.66 L221.70,128.70 L222.20,128.74 L222.70,128.79 L223.20,128.83 L223.70,128.87 L224.20,128.91 L224.70,128.96 L225.20,129.00 L225.70,129.04 L226.20,129.08 L226.70,129.12 L227.20,129.16 L227.70,129.20 L228.20,129.24 L228.70,129.27 L229.20,129.31 L229.70,129.35 L230.20,129.39 L230.70,129.42 L231.20,129.46 L231.70,129.49 L232.20,129.53 L232.70,129.56 L233.20,129.60 L233.70,129.63 L234.20,129.66 L234.70,129.69 L235.20,129.73 L235.70,129.76 L236.20,129.79 L236.70,129.82 L237.20,129.85 L237.70,129.88 L238.20,129.90 L238.70,129.93 L239.20,129.96 L239.70,129.98 L240.20,130.01 L240.70,130.04 L241.20,130.06 L241.70,130.09 L242.20,130.11 L242.70,130.14 L243.20,130.16 L243.70,130.19 L244.20,130.21 L244.70,130.24 L245.20,130.26 L245.70,130.28 L246.20,130.31 L246.70,130.33 L247.20,130.36 L247.70,130.38 L248.20,130.40 L248.70,130.43 L249.20,130.45 L249.70,130.47 L250.20,130.49 L250.70,130.52 L251.20,130.54 L251.70,130.56 L252.20,130.58 L252.70,130.61 L253.20,130.63 L253.70,130.65 L254.20,130.67 L254.70,130.69 L255.20,130.71 L255.70,130.74 L256.20,130.76 L256.70,130.78 L257.20,130.80 L257.70,130.82 L258.20,130.84 L258.70,130.86 L259.20,130.88 L259.70,130.90 L260.20,130.92 L260.70,130.94 L261.20,130.96 L261.70,130.98 L262.20,131.00 L262.70,131.02 L263.20,131.03 L263.70,131.05 L264.20,131.07 L264.70,131.09 L265.20,131.11 L265.70,131.13 L266.20,131.14 L266.70,131.16 L267.20,131.18 L267.70,131.20 L268.20,131.21 L268.70,131.23 L269.20,131.25 L269.70,131.26 L270.20,131.28 L270.70,131.30 L271.20,131.31 L271.70,131.33 L272.20,131.35 L272.70,131.36 L273.20,131.38 L273.70,131.39 L274.20,131.41 L274.70,131.42 L275.20,131.44 L275.70,131.45 L276.20,131.47 L276.70,131.48 L277.20,131.49 L277.70,131.51 L278.20,131.52 L278.70,131.54 L279.20,131.55 L279.70,131.56 L280.20,131.58 L280.70,131.59 L281.20,131.60 L281.70,131.62 L282.20,131.63 L282.70,131.64 L283.20,131.65 L283.70,131.66 L284.20,131.68 L284.70,131.69 L285.20,131.70 L285.70,131.71 L286.20,131.72 L286.70,131.73 L287.20,131.74 L287.70,131.75 L288.20,131.76 L288.70,131.77 L289.20,131.78 L289.70,131.79 L290.20,131.80 L290.70,131.81 L291.20,131.82 L291.70,131.83 L292.20,131.84 L292.70,131.85 L293.20,131.86 L293.70,131.87 L294.20,131.88 L294.70,131.88 L295.20,131.89 L295.70,131.90 L296.20,131.91 L296.70,131.91 L297.20,131.92 L297.70,131.93 L298.20,131.94 L298.70,131.94 L299.20,131.95 L299.70,131.96 L300.20,131.96 L300.70,131.97 L301.20,131.97 L301.70,131.98 L302.20,131.99 L302.70,131.99 L303.20,132.00 L303.60,132.00" stroke="#007800"/>
<path d="M105.52,219.30 L108.10,48.30 L108.30,47.22 L108.50,46.17 L108.70,45.16 L108.90,44.22 L109.10,43.37 L109.30,42.62 L109.50,42.00 L109.70,41.44 L109.90,40.89 L110.10,40.34 L110.30,39.82 L110.50,39.32 L110.70,38.86 L110.90,38.45 L111.10,38.10 L111.30,37.81 L111.50,37.59 L111.70,37.45 L111.90,37.40 L112.10,37.46 L112.30,37.63 L112.50,37.90 L112.70,38.24 L112.90,38.64 L113.10,39.08 L113.30,39.54 L113.50,40.00 L113.70,40.53 L113.90,41.20 L114.10,41.98 L114.30,42.87 L114.50,43.83 L114.70,44.87 L114.90,45.95 L115.10,47.06 L115.30,48.18 L115.50,49.31 L115.70,50.41 L115.90,51.47 L116.10,52.48 L116.30,53.42 L116.50,54.26 L116.70,55.00 L116.90,55.65 L117.10,56.26 L117.30,56.83 L117.50,57.37 L117.70,57.89 L117.90,58.40 L118.10,58.90 L118.30,59.40 L118.50,59.92 L118.70,60.45 L118.90,61.00 L119.10,61.58 L119.30,62.16 L119.50,62.75 L119.70,63.35 L119.90,63.96 L120.10,64.57 L120.30,65.19 L120.50,65.81 L120.70,66.43 L120.90,67.06 L121.10,67.68 L121.30,68.31 L121.50,68.93 L121.70,69.55 L121.90,70.17 L122.10,70.78 L122.30,71.39 L122.50,71.99 L122.70,72.58 L122.90,73.16 L123.10,73.74 L123.30,74.30 L123.50,74.86 L123.70,75.43 L123.90,76.01 L124.10,76.59 L124.30,77.18 L124.50,77.77 L124.70,78.35 L124.90,78.93 L125.10,79.51 L125.30,80.08 L125.50,80.64 L125.70,81.19 L125.90,81.73 L126.10,82.26 L126.30,82.76 L126.50,83.25 L126.70,83.72 L126.90,84.17 L127.10,84.59 L127.30,84.99 L127.50,85.36 L127.70,85.70 L127.90,86.02 L128.10,86.32 L128.30,86.61 L128.50,86.88 L128.70,87.15 L128.90,87.40 L129.10,87.64 L129.30,87.88 L129.50,88.11 L129.70,88.33 L129.90,88.55 L130.10,88.76 L130.30,88.97 L130.50,89.18 L130.70,89.38 L130.90,89.59 L131.10,89.80 L131.30,90.01 L131.50,90.22 L131.70,90.44 L131.90,90.67 L132.10,90.90 L132.30,91.14 L132.50,91.37 L132.70,91.61 L132.90,91.84 L133.10,92.08 L133.30,92.32 L133.50,92.55 L133.70,92.79 L133.90,93.03 L134.10,93.26 L134.30,93.50 L134.50,93.74 L134.70,93.97 L134.90,94.21 L135.10,94.44 L135.30,94.68 L135.50,94.91 L135.70,95.15 L135.90,95.38 L136.10,95.62 L136.30,95.85 L136.50,96.08 L136.70,96.31 L136.90,96.54 L137.10,96.77 L137.30,97.00 L137.50,97.23 L137.70,97.46 L137.90,97.69 L138.10,97.93 L138.30,98.16 L138.80,98.75 L139.30,99.34 L139.80,99.93 L140.30,100.50 L140.80,101.06 L141.30,101.60 L141.80,102.13 L142.30,102.62 L142.80,103.08 L143.30,103.53 L143.80,103.98 L144.30,104.42 L144.80,104.85 L145.30,105.27 L145.80,105.68 L146.30,106.09 L146.80,106.49 L147.30,106.88 L147.80,107.26 L148.30,107.63 L148.80,108.00 L149.30,108.36 L149.80,108.71 L150.30,109.05 L150.80,109.38 L151.30,109.71 L151.80,110.02 L152.30,110.33 L152.80,110.63 L153.30,110.91 L153.80,111.20 L154.30,111.48 L154.80,111.76 L155.30,112.03 L155.80,112.30 L156.30,112.56 L156.80,112.82 L157.30,113.07 L157.80,113.32 L158.30,113.56 L158.80,113.79 L159.30,114.02 L159.80,114.24 L160.30,114.46 L160.80,114.67 L161.30,114.87 L161.80,115.07 L162.30,115.25 L162.80,115.43 L163.30,115.60 L163.80,115.76 L164.30,115.92 L164.80,116.07 L165.30,116.22 L165.80,116.36 L166.30,116.50 L166.80,116.63 L167.30,116.76 L167.80,116.88 L168.30,117.01 L168.80,117.13 L169.30,117.24 L169.80,117.36 L170.30,117.47 L170.80,117.58 L171.30,117.69 L171.80,117.80 L172.30,117.91 L172.80,118.02 L173.30,118.13 L173.80,118.24 L174.30,118.35 L174.80,118.46 L175.30,118.57 L175.80,118.68 L176.30,118.79 L176.80,118.90 L177.30,119.01 L177.80,119.12 L178.30,119.23 L178.80,119.34 L179.30,119.45 L179.80,119.56 L180.30,119.67 L180.80,119.78 L181.30,119.89 L181.80,120.00 L182.30,120.10 L182.80,120.21 L183.30,120.32 L183.80,120.43 L184.30,120.53 L184.80,120.64 L185.30,120.75 L185.80,120.85 L186.30,120.96 L186.80,121.06 L187.30,121.17 L187.80,121.27 L188.30,121.37 L188.80,121.48 L189.30,121.58 L189.80,121.68 L190.30,121.78 L190.80,121.88 L191.30,121.98 L191.80,122.08 L192.30,122.18 L192.80,122.28 L193.30,122.37 L193.80,122.47 L194.30,122.56 L194.80,122.66 L195.30,122.75 L195.80,122.85 L196.30,122.94 L196.80,123.03 L197.30,123.12 L197.80,123.21 L198.30,123.30 L198.80,123.39 L199.30,123.48 L199.80,123.56 L200.30,123.65 L200.80,123.73 L201.30,123.82 L201.80,123.90 L202.30,123.98 L202.80,124.06 L203.30,124.14 L203.80,124.22 L204.30,124.29 L204.80,124.37 L205.30,124.44 L205.80,124.52 L206.30,124.59 L206.80,124.67 L207.30,124.74 L207.80,124.82 L208.30,124.89 L208.80,124.96 L209.30,125.04 L209.80,125.11 L210.30,125.18 L210.80,125.26 L211.30,125.33 L211.80,125.40 L212.30,125.47 L212.80,125.54 L213.30,125.62 L213.80,125.69 L214.30,125.76 L214.80,125.83 L215.30,125.90 L215.80,125.97 L216.30,126.03 L216.80,126.10 L217.30,126.17 L217.80,126.24 L218.30,126.30 L218.80,126.37 L219.30,126.44 L219.80,126.50 L220.30,126.57 L220.80,126.63 L221.30,126.70 L221.80,126.76 L222.30,126.82 L222.80,126.89 L223.30,126.95 L223.80,127.01 L224.30,127.07 L224.80,127.13 L225.30,127.19 L225.80,127.25 L226.30,127.31 L226.80,127.36 L227.30,127.42 L227.80,127.48 L228.30,127.53 L228.80,127.59 L229.30,127.64 L229.80,127.69 L230.30,127.75 L230.80,127.80 L231.30,127.85 L231.80,127.90 L232.30,127.95 L232.80,128.00 L233.30,128.04 L233.80,128.09 L234.30,128.14 L234.80,128.18 L235.30,128.23 L235.80,128.27 L236.30,128.31 L236.80,128.36 L237.30,128.40 L237.80,128.44 L238.30,128.47 L238.80,128.51 L239.30,128.55 L239.80,128.59 L240.30,128.62 L240.80,128.66 L241.30,128.69 L241.80,128.73 L242.30,128.76 L242.80,128.79 L243.30,128.83 L243.80,128.86 L244.30,128.89 L244.80,128.93 L245.30,128.96 L245.80,128.99 L246.30,129.02 L246.80,129.06 L247.30,129.09 L247.80,129.12 L248.30,129.15 L248.80,129.18 L249.30,129.21 L249.80,129.24 L250.30,129.27 L250.80,129.30 L251.30,129.33 L251.80,129.36 L252.30,129.39 L252.80,129.42 L253.30,129.45 L253.80,129.48 L254.30,129.51 L254.80,129.54 L255.30,129.56 L255.80,129.59 L256.30,129.62 L256.80,129.65 L257.30,129.67 L257.80,129.70 L258.30,129.73 L258.80,129.75 L259.30,129.78 L259.80,129.81 L260.30,129.83 L260.80,129.86 L261.30,129.88 L261.80,129.91 L262.30,129.93 L262.80,129.96 L263.30,129.98 L263.80,130.01 L264.30,130.03 L264.80,130.05 L265.30,130.08 L265.80,130.10 L266.30,130.12 L266.80,130.15 L267.30,130.17 L267.80,130.19 L268.30,130.21 L268.80,130.24 L269.30,130.26 L269.80,130.28 L270.30,130.30 L270.80,130.32 L271.30,130.35 L271.80,130.37 L272.30,130.39 L272.80,130.41 L273.30,130.43 L273.80,130.45 L274.30,130.47 L274.80,130.49 L275.30,130.51 L275.80,130.53 L276.30,130.55 L276.80,130.57 L277.30,130.58 L277.80,130.60 L278.30,130.62 L278.80,130.64 L279.30,130.66 L279.80,130.68 L280.30,130.69 L280.80,130.71 L281.30,130.73 L281.80,130.74 L282.30,130.76 L282.80,130.78 L283.30,130.80 L283.80,130.81 L284.30,130.83 L284.80,130.84 L285.30,130.86 L285.80,130.88 L286.30,130.89 L286.80,130.91 L287.30,130.92 L287.80,130.94 L288.30,130.95 L288.80,130.97 L289.30,130.98 L289.80,130.99 L290.30,131.01 L290.80,131.02 L291.30,131.04 L291.80,131.05 L292.30,131.06 L292.80,131.08 L293.30,131.09 L293.80,131.10 L294.30,131.11 L294.80,131.12 L295.30,131.14 L295.80,131.15 L296.30,131.16 L296.80,131.17 L297.30,131.18 L297.80,131.19 L298.30,131.20 L298.80,131.21 L299.30,131.22 L299.80,131.23 L300.30,131.24 L300.80,131.25 L301.30,131.26 L301.80,131.27 L302.30,131.28 L302.80,131.29 L303.30,131.30 L303.60,131.30" stroke="#00007a"/>
<path d="M116.55,219.30 L118.40,37.80 L118.60,36.91 L118.80,36.05 L119.00,35.23 L119.20,34.49 L119.40,33.85 L119.60,33.35 L119.80,33.00 L120.00,32.75 L120.20,32.51 L120.40,32.29 L120.60,32.09 L120.80,31.91 L121.00,31.74 L121.20,31.60 L121.40,31.49 L121.60,31.40 L121.80,31.34 L122.00,31.30 L122.20,31.31 L122.40,31.36 L122.60,31.46 L122.80,31.61 L123.00,31.79 L123.20,32.02 L123.40,32.27 L123.60,32.55 L123.80,32.84 L124.00,33.16 L124.20,33.49 L124.40,33.83 L124.60,34.18 L124.80,34.63 L125.00,35.17 L125.20,35.79 L125.40,36.48 L125.60,37.22 L125.80,38.01 L126.00,38.83 L126.20,39.68 L126.40,40.53 L126.60,41.37 L126.80,42.20 L127.00,43.00 L127.20,43.80 L127.40,44.63 L127.60,45.49 L127.80,46.38 L128.00,47.28 L128.20,48.18 L128.40,49.10 L128.60,50.01 L128.80,50.92 L129.00,51.81 L129.20,52.69 L129.40,53.54 L129.60,54.36 L129.80,55.15 L130.00,55.90 L130.20,56.62 L130.40,57.32 L130.60,58.00 L130.80,58.67 L131.00,59.33 L131.20,59.97 L131.40,60.60 L131.60,61.21 L131.80,61.81 L132.00,62.39 L132.20,62.96 L132.40,63.52 L132.60,64.07 L132.80,64.61 L133.00,65.14 L133.20,65.66 L133.40,66.17 L133.60,66.68 L133.80,67.18 L134.00,67.67 L134.20,68.15 L134.40,68.63 L134.60,69.10 L134.80,69.56 L135.00,70.02 L135.20,70.48 L135.40,70.93 L135.60,71.38 L135.80,71.83 L136.00,72.27 L136.20,72.71 L136.40,73.15 L136.60,73.58 L136.80,74.02 L137.00,74.45 L137.20,74.88 L137.40,75.32 L137.60,75.75 L137.80,76.18 L138.00,76.61 L138.20,77.04 L138.40,77.47 L138.60,77.90 L138.80,78.33 L139.00,78.75 L139.20,79.17 L139.40,79.59 L139.60,80.01 L139.80,80.42 L140.00,80.83 L140.20,81.23 L140.40,81.64 L140.60,82.03 L140.80,82.42 L141.00,82.81 L141.20,83.19 L141.40,83.57 L141.60,83.94 L141.80,84.31 L142.00,84.66 L142.20,85.02 L142.40,85.36 L142.60,85.70 L142.80,86.03 L143.00,86.36 L143.20,86.69 L143.40,87.01 L143.60,87.33 L143.80,87.65 L144.00,87.97 L144.20,88.28 L144.40,88.59 L144.60,88.89 L144.80,89.19 L145.00,89.49 L145.20,89.79 L145.40,90.08 L145.60,90.37 L145.80,90.65 L146.00,90.94 L146.20,91.22 L146.40,91.49 L146.60,91.76 L146.80,92.03 L147.00,92.30 L147.20,92.56 L147.40,92.81 L147.60,93.07 L147.80,93.32 L148.00,93.57 L148.20,93.81 L148.40,94.05 L148.60,94.28 L149.10,94.86 L149.60,95.42 L150.10,95.96 L150.60,96.50 L151.10,97.02 L151.60,97.52 L152.10,98.02 L152.60,98.50 L153.10,98.97 L153.60,99.43 L154.10,99.88 L154.60,100.32 L155.10,100.75 L155.60,101.18 L156.10,101.59 L156.60,102.00 L157.10,102.40 L157.60,102.80 L158.10,103.19 L158.60,103.57 L159.10,103.95 L159.60,104.32 L160.10,104.69 L160.60,105.05 L161.10,105.40 L161.60,105.74 L162.10,106.08 L162.60,106.41 L163.10,106.73 L163.60,107.05 L164.10,107.35 L164.60,107.65 L165.10,107.93 L165.60,108.21 L166.10,108.48 L166.60,108.75 L167.10,109.01 L167.60,109.27 L168.10,109.52 L168.60,109.76 L169.10,110.00 L169.60,110.24 L170.10,110.47 L170.60,110.70 L171.10,110.92 L171.60,111.14 L172.10,111.35 L172.60,111.56 L173.10,111.76 L173.60,111.96 L174.10,112.16 L174.60,112.35 L175.10,112.54 L175.60,112.72 L176.10,112.91 L176.60,113.09 L177.10,113.27 L177.60,113.45 L178.10,113.63 L178.60,113.81 L179.10,113.98 L179.60,114.16 L180.10,114.33 L180.60,114.51 L181.10,114.68 L181.60,114.85 L182.10,115.02 L182.60,115.18 L183.10,115.35 L183.60,115.51 L184.10,115.68 L184.60,115.84 L185.10,116.00 L185.60,116.16 L186.10,116.32 L186.60,116.48 L187.10,116.63 L187.60,116.79 L188.10,116.94 L188.60,117.09 L189.10,117.24 L189.60,117.39 L190.10,117.54 L190.60,117.69 L191.10,117.83 L191.60,117.98 L192.10,118.12 L192.60,118.26 L193.10,118.40 L193.60,118.54 L194.10,118.67 L194.60,118.81 L195.10,118.94 L195.60,119.08 L196.10,119.21 L196.60,119.34 L197.10,119.47 L197.60,119.59 L198.10,119.72 L198.60,119.84 L199.10,119.96 L199.60,120.09 L200.10,120.21 L200.60,120.32 L201.10,120.44 L201.60,120.56 L202.10,120.67 L202.60,120.78 L203.10,120.89 L203.60,121.00 L204.10,121.11 L204.60,121.22 L205.10,121.32 L205.60,121.42 L206.10,121.53 L206.60,121.63 L207.10,121.73 L207.60,121.84 L208.10,121.94 L208.60,122.04 L209.10,122.14 L209.60,122.24 L210.10,122.34 L210.60,122.44 L211.10,122.54 L211.60,122.64 L212.10,122.73 L212.60,122.83 L213.10,122.93 L213.60,123.02 L214.10,123.12 L214.60,123.21 L215.10,123.31 L215.60,123.40 L216.10,123.49 L216.60,123.58 L217.10,123.67 L217.60,123.77 L218.10,123.85 L218.60,123.94 L219.10,124.03 L219.60,124.12 L220.10,124.21 L220.60,124.29 L221.10,124.38 L221.60,124.46 L222.10,124.55 L222.60,124.63 L223.10,124.71 L223.60,124.79 L224.10,124.87 L224.60,124.95 L225.10,125.03 L225.60,125.11 L226.10,125.18 L226.60,125.26 L227.10,125.33 L227.60,125.41 L228.10,125.48 L228.60,125.55 L229.10,125.62 L229.60,125.69 L230.10,125.76 L230.60,125.83 L231.10,125.90 L231.60,125.96 L232.10,126.03 L232.60,126.09 L233.10,126.15 L233.60,126.21 L234.10,126.27 L234.60,126.33 L235.10,126.39 L235.60,126.45 L236.10,126.50 L236.60,126.56 L237.10,126.61 L237.60,126.67 L238.10,126.72 L238.60,126.77 L239.10,126.82 L239.60,126.86 L240.10,126.91 L240.60,126.95 L241.10,127.00 L241.60,127.04 L242.10,127.09 L242.60,127.13 L243.10,127.18 L243.60,127.22 L244.10,127.26 L244.60,127.30 L245.10,127.35 L245.60,127.39 L246.10,127.43 L246.60,127.47 L247.10,127.51 L247.60,127.55 L248.10,127.59 L248.60,127.63 L249.10,127.67 L249.60,127.71 L250.10,127.75 L250.60,127.78 L251.10,127.82 L251.60,127.86 L252.10,127.90 L252.60,127.93 L253.10,127.97 L253.60,128.01 L254.10,128.04 L254.60,128.08 L255.10,128.11 L255.60,128.15 L256.10,128.18 L256.60,128.22 L257.10,128.25 L257.60,128.28 L258.10,128.32 L258.60,128.35 L259.10,128.38 L259.60,128.41 L260.10,128.45 L260.60,128.48 L261.10,128.51 L261.60,128.54 L262.10,128.57 L262.60,128.60 L263.10,128.63 L263.60,128.66 L264.10,128.69 L264.60,128.72 L265.10,128.75 L265.60,128.78 L266.10,128.81 L266.60,128.84 L267.10,128.87 L267.60,128.90 L268.10,128.93 L268.60,128.96 L269.10,128.98 L269.60,129.01 L270.10,129.04 L270.60,129.06 L271.10,129.09 L271.60,129.12 L272.10,129.15 L272.60,129.17 L273.10,129.20 L273.60,129.22 L274.10,129.25 L274.60,129.28 L275.10,129.30 L275.60,129.33 L276.10,129.35 L276.60,129.38 L277.10,129.40 L277.60,129.43 L278.10,129.45 L278.60,129.48 L279.10,129.50 L279.60,129.52 L280.10,129.55 L280.60,129.57 L281.10,129.60 L281.60,129.62 L282.10,129.64 L282.60,129.67 L283.10,129.69 L283.60,129.71 L284.10,129.74 L284.60,129.76 L285.10,129.78 L285.60,129.80 L286.10,129.83 L286.60,129.85 L287.10,129.87 L287.60,129.89 L288.10,129.92 L288.60,129.94 L289.10,129.96 L289.60,129.98 L290.10,130.00 L290.60,130.03 L291.10,130.05 L291.60,130.07 L292.10,130.09 L292.60,130.11 L293.10,130.13 L293.60,130.15 L294.10,130.17 L294.60,130.19 L295.10,130.21 L295.60,130.23 L296.10,130.25 L296.60,130.26 L297.10,130.28 L297.60,130.30 L298.10,130.32 L298.60,130.34 L299.10,130.35 L299.60,130.37 L300.10,130.39 L300.60,130.40 L301.10,130.42 L301.60,130.44 L302.10,130.45 L302.60,130.47 L303.10,130.48 L303.60,130.50 L303.60,130.50" stroke="#7800ee"/>
<path d="M127.58,219.30 L129.80,35.10 L130.00,34.47 L130.20,33.84 L130.40,33.23 L130.60,32.64 L130.80,32.06 L131.00,31.50 L131.20,30.96 L131.40,30.43 L131.60,29.93 L131.80,29.45 L132.00,29.00 L132.20,28.54 L132.40,28.07 L132.60,27.58 L132.80,27.09 L133.00,26.61 L133.20,26.14 L133.40,25.70 L133.60,25.29 L133.80,24.93 L134.00,24.62 L134.20,24.38 L134.40,24.20 L134.60,24.11 L134.80,24.12 L135.00,24.24 L135.20,24.46 L135.40,24.77 L135.60,25.14 L135.80,25.56 L136.00,26.00 L136.20,26.60 L136.40,27.45 L136.60,28.48 L136.80,29.62 L137.00,30.80 L137.20,31.95 L137.40,33.04 L137.60,34.17 L137.80,35.36 L138.00,36.61 L138.20,37.89 L138.40,39.19 L138.60,40.51 L138.80,41.84 L139.00,43.15 L139.20,44.45 L139.40,45.71 L139.60,46.93 L139.80,48.10 L140.00,49.20 L140.20,50.22 L140.40,51.15 L140.60,51.98 L140.80,52.70 L141.00,53.30 L141.20,53.82 L141.40,54.29 L141.60,54.76 L141.80,55.25 L142.00,55.74 L142.20,56.23 L142.40,56.72 L142.60,57.21 L142.80,57.69 L143.00,58.18 L143.20,58.66 L143.40,59.13 L143.60,59.61 L143.80,60.09 L144.00,60.56 L144.20,61.03 L144.40,61.50 L144.60,61.98 L144.80,62.45 L145.00,62.92 L145.20,63.39 L145.40,63.85 L145.60,64.32 L145.80,64.79 L146.00,65.26 L146.20,65.74 L146.40,66.21 L146.60,66.69 L146.80,67.17 L147.00,67.65 L147.20,68.13 L147.40,68.62 L147.60,69.11 L147.80,69.59 L148.00,70.08 L148.20,70.56 L148.40,71.05 L148.60,71.53 L148.80,72.01 L149.00,72.48 L149.20,72.96 L149.40,73.43 L149.60,73.89 L149.80,74.35 L150.00,74.81 L150.20,75.26 L150.40,75.70 L150.60,76.13 L150.80,76.56 L151.00,76.98 L151.20,77.40 L151.40,77.80 L151.60,78.20 L151.80,78.60 L152.00,79.00 L152.20,79.39 L152.40,79.79 L152.60,80.19 L152.80,80.58 L153.00,80.98 L153.20,81.37 L153.40,81.76 L153.60,82.15 L153.80,82.54 L154.00,82.93 L154.20,83.31 L154.40,83.69 L154.60,84.07 L154.80,84.44 L155.00,84.81 L155.20,85.18 L155.40,85.55 L155.60,85.91 L155.80,86.27 L156.00,86.62 L156.20,86.97 L156.40,87.32 L156.60,87.66 L156.80,87.99 L157.00,88.33 L157.20,88.65 L157.40,88.97 L157.60,89.29 L157.80,89.60 L158.00,89.90 L158.20,90.20 L158.40,90.49 L158.60,90.78 L158.80,91.06 L159.00,91.33 L159.20,91.60 L159.40,91.85 L159.60,92.10 L159.80,92.35 L160.00,92.58 L160.50,93.15 L161.00,93.68 L161.50,94.19 L162.00,94.67 L162.50,95.13 L163.00,95.57 L163.50,95.99 L164.00,96.40 L164.50,96.80 L165.00,97.20 L165.50,97.58 L166.00,97.96 L166.50,98.34 L167.00,98.72 L167.50,99.10 L168.00,99.48 L168.50,99.85 L169.00,100.21 L169.50,100.57 L170.00,100.92 L170.50,101.27 L171.00,101.61 L171.50,101.94 L172.00,102.28 L172.50,102.60 L173.00,102.93 L173.50,103.25 L174.00,103.57 L174.50,103.89 L175.00,104.20 L175.50,104.51 L176.00,104.82 L176.50,105.12 L177.00,105.42 L177.50,105.71 L178.00,106.00 L178.50,106.29 L179.00,106.57 L179.50,106.85 L180.00,107.13 L180.50,107.40 L181.00,107.67 L181.50,107.94 L182.00,108.21 L182.50,108.47 L183.00,108.74 L183.50,109.00 L184.00,109.27 L184.50,109.53 L185.00,109.78 L185.50,110.04 L186.00,110.29 L186.50,110.54 L187.00,110.79 L187.50,111.03 L188.00,111.27 L188.50,111.50 L189.00,111.73 L189.50,111.96 L190.00,112.18 L190.50,112.39 L191.00,112.60 L191.50,112.81 L192.00,113.01 L192.50,113.21 L193.00,113.41 L193.50,113.60 L194.00,113.80 L194.50,113.99 L195.00,114.18 L195.50,114.36 L196.00,114.55 L196.50,114.73 L197.00,114.91 L197.50,115.08 L198.00,115.26 L198.50,115.43 L199.00,115.60 L199.50,115.77 L200.00,115.94 L200.50,116.10 L201.00,116.27 L201.50,116.43 L202.00,116.59 L202.50,116.74 L203.00,116.90 L203.50,117.05 L204.00,117.20 L204.50,117.35 L205.00,117.50 L205.50,117.65 L206.00,117.79 L206.50,117.93 L207.00,118.07 L207.50,118.21 L208.00,118.35 L208.50,118.49 L209.00,118.63 L209.50,118.76 L210.00,118.89 L210.50,119.02 L211.00,119.15 L211.50,119.28 L212.00,119.41 L212.50,119.54 L213.00,119.66 L213.50,119.79 L214.00,119.91 L214.50,120.04 L215.00,120.16 L215.50,120.28 L216.00,120.40 L216.50,120.52 L217.00,120.63 L217.50,120.75 L218.00,120.87 L218.50,120.98 L219.00,121.10 L219.50,121.21 L220.00,121.32 L220.50,121.43 L221.00,121.55 L221.50,121.66 L222.00,121.77 L222.50,121.88 L223.00,121.99 L223.50,122.10 L224.00,122.21 L224.50,122.32 L225.00,122.43 L225.50,122.55 L226.00,122.66 L226.50,122.77 L227.00,122.88 L227.50,122.99 L228.00,123.10 L228.50,123.21 L229.00,123.32 L229.50,123.43 L230.00,123.54 L230.50,123.65 L231.00,123.75 L231.50,123.86 L232.00,123.96 L232.50,124.06 L233.00,124.16 L233.50,124.26 L234.00,124.35 L234.50,124.45 L235.00,124.54 L235.50,124.63 L236.00,124.71 L236.50,124.80 L237.00,124.88 L237.50,124.96 L238.00,125.03 L238.50,125.10 L239.00,125.17 L239.50,125.24 L240.00,125.30 L240.50,125.36 L241.00,125.42 L241.50,125.48 L242.00,125.54 L242.50,125.59 L243.00,125.65 L243.50,125.71 L244.00,125.76 L244.50,125.82 L245.00,125.88 L245.50,125.93 L246.00,125.99 L246.50,126.04 L247.00,126.09 L247.50,126.15 L248.00,126.20 L248.50,126.25 L249.00,126.31 L249.50,126.36 L250.00,126.41 L250.50,126.46 L251.00,126.51 L251.50,126.56 L252.00,126.61 L252.50,126.66 L253.00,126.71 L253.50,126.76 L254.00,126.80 L254.50,126.85 L255.00,126.90 L255.50,126.95 L256.00,126.99 L256.50,127.04 L257.00,127.08 L257.50,127.13 L258.00,127.17 L258.50,127.22 L259.00,127.26 L259.50,127.30 L260.00,127.35 L260.50,127.39 L261.00,127.43 L261.50,127.47 L262.00,127.51 L262.50,127.55 L263.00,127.60 L263.50,127.64 L264.00,127.67 L264.50,127.71 L265.00,127.75 L265.50,127.79 L266.00,127.83 L266.50,127.87 L267.00,127.90 L267.50,127.94 L268.00,127.98 L268.50,128.01 L269.00,128.05 L269.50,128.08 L270.00,128.12 L270.50,128.15 L271.00,128.19 L271.50,128.22 L272.00,128.25 L272.50,128.29 L273.00,128.32 L273.50,128.35 L274.00,128.38 L274.50,128.41 L275.00,128.45 L275.50,128.48 L276.00,128.51 L276.50,128.54 L277.00,128.57 L277.50,128.59 L278.00,128.62 L278.50,128.65 L279.00,128.68 L279.50,128.71 L280.00,128.73 L280.50,128.76 L281.00,128.79 L281.50,128.81 L282.00,128.84 L282.50,128.86 L283.00,128.89 L283.50,128.91 L284.00,128.94 L284.50,128.96 L285.00,128.99 L285.50,129.01 L286.00,129.03 L286.50,129.05 L287.00,129.08 L287.50,129.10 L288.00,129.12 L288.50,129.14 L289.00,129.16 L289.50,129.18 L290.00,129.20 L290.50,129.22 L291.00,129.24 L291.50,129.26 L292.00,129.28 L292.50,129.29 L293.00,129.31 L293.50,129.33 L294.00,129.35 L294.50,129.36 L295.00,129.38 L295.50,129.39 L296.00,129.41 L296.50,129.43 L297.00,129.44 L297.50,129.45 L298.00,129.47 L298.50,129.48 L299.00,129.50 L299.50,129.51 L300.00,129.52 L300.50,129.53 L301.00,129.55 L301.50,129.56 L302.00,129.57 L302.50,129.58 L303.00,129.59 L303.50,129.60 L303.60,129.60" stroke="#7a007a"/>
</g>
<g fill="none" stroke-width="0.45" stroke-linejoin="round">
<path d="M441.30,190.40 L441.50,190.41 L441.70,190.41 L441.90,190.42 L442.10,190.43 L442.30,190.44 L442.50,190.44 L442.70,190.45 L442.90,190.46 L443.10,190.46 L443.30,190.47 L443.50,190.48 L443.70,190.49 L443.90,190.49 L444.10,190.50 L444.30,190.51 L444.50,190.52 L444.70,190.53 L444.90,190.53 L445.10,190.54 L445.30,190.55 L445.50,190.56 L445.70,190.57 L445.90,190.58 L446.10,190.58 L446.30,190.59 L446.50,190.60 L446.70,190.61 L446.90,190.62 L447.10,190.63 L447.30,190.64 L447.50,190.64 L447.70,190.65 L447.90,190.66 L448.10,190.67 L448.30,190.68 L448.50,190.69 L448.70,190.70 L448.90,190.71 L449.10,190.72 L449.30,190.73 L449.50,190.74 L449.70,190.75 L449.90,190.76 L450.10,190.77 L450.30,190.77 L450.50,190.78 L450.70,190.79 L450.90,190.80 L451.10,190.81 L451.30,190.82 L451.50,190.83 L451.70,190.84 L451.90,190.85 L452.10,190.86 L452.30,190.87 L452.50,190.88 L452.70,190.89 L452.90,190.91 L453.10,190.92 L453.30,190.93 L453.50,190.94 L453.70,190.95 L453.90,190.96 L454.10,190.98 L454.30,190.99 L454.50,191.00 L454.70,191.02 L454.90,191.03 L455.10,191.05 L455.30,191.06 L455.50,191.08 L455.70,191.09 L455.90,191.11 L456.10,191.13 L456.30,191.14 L456.50,191.16 L456.70,191.18 L456.90,191.19 L457.10,191.21 L457.30,191.23 L457.50,191.24 L457.70,191.26 L457.90,191.28 L458.10,191.29 L458.30,191.31 L458.50,191.33 L458.70,191.35 L458.90,191.36 L459.10,191.38 L459.30,191.40 L459.50,191.41 L459.70,191.43 L459.90,191.45 L460.10,191.47 L460.30,191.48 L460.50,191.50 L460.70,191.51 L460.90,191.53 L461.10,191.54 L461.30,191.56 L461.50,191.57 L461.70,191.59 L461.90,191.60 L462.10,191.62 L462.30,191.63 L462.50,191.64 L462.70,191.66 L462.90,191.67 L463.10,191.68 L463.30,191.69 L463.50,191.70 L463.70,191.71 L463.90,191.72 L464.10,191.73 L464.30,191.74 L464.50,191.75 L464.70,191.76 L464.90,191.77 L465.10,191.77 L465.30,191.78 L465.50,191.78 L465.70,191.79 L465.90,191.79 L466.10,191.80 L466.30,191.80 L466.50,191.80 L466.70,191.80 L466.90,191.80 L467.10,191.80 L467.30,191.79 L467.50,191.79 L467.70,191.78 L467.90,191.77 L468.10,191.75 L468.30,191.74 L468.50,191.73 L468.70,191.71 L468.90,191.69 L469.10,191.67 L469.30,191.65 L469.50,191.63 L469.70,191.61 L469.90,191.59 L470.10,191.57 L470.30,191.55 L470.50,191.53 L470.70,191.51 L470.90,191.49 L471.10,191.47 L471.30,191.45 L471.50,191.43 L472.00,191.38 L472.50,191.35 L473.00,191.32 L473.50,191.30 L474.00,191.30 L474.50,191.31 L475.00,191.33 L475.50,191.36 L476.00,191.40 L476.50,191.45 L477.00,191.50 L477.50,191.56 L478.00,191.62 L478.50,191.68 L479.00,191.74 L479.50,191.81 L480.00,191.87 L480.50,191.93 L481.00,191.99 L481.50,192.04 L482.00,192.09 L482.50,192.13 L483.00,192.16 L483.50,192.19 L484.00,192.20 L484.50,192.20 L485.00,192.18 L485.50,192.16 L486.00,192.12 L486.50,192.07 L487.00,192.01 L487.50,191.95 L488.00,191.89 L488.50,191.82 L489.00,191.77 L489.50,191.71 L490.00,191.67 L490.50,191.63 L491.00,191.61 L491.50,191.60 L492.00,191.59 L492.50,191.59 L493.00,191.58 L493.50,191.58 L494.00,191.57 L494.50,191.57 L495.00,191.56 L495.50,191.56 L496.00,191.56 L496.50,191.55 L497.00,191.55 L497.50,191.55 L498.00,191.55 L498.50,191.54 L499.00,191.54 L499.50,191.54 L500.00,191.54 L500.50,191.54 L501.00,191.53 L501.50,191.53 L502.00,191.53 L502.50,191.53 L503.00,191.53 L503.50,191.52 L504.00,191.52 L504.50,191.52 L505.00,191.52 L505.50,191.51 L506.00,191.51 L506.50,191.51 L507.00,191.50 L507.50,191.50 L508.00,191.49 L508.50,191.48 L509.00,191.48 L509.50,191.47 L510.00,191.46 L510.50,191.45 L511.00,191.44 L511.50,191.43 L512.00,191.43 L512.50,191.42 L513.00,191.41 L513.50,191.40 L514.00,191.39 L514.50,191.38 L515.00,191.37 L515.50,191.36 L516.00,191.35 L516.50,191.34 L517.00,191.33 L517.50,191.33 L518.00,191.32 L518.50,191.31 L519.00,191.31 L519.50,191.31 L520.00,191.30 L520.50,191.30 L521.00,191.30 L521.50,191.32 L522.00,191.41 L522.50,191.53 L523.00,191.68 L523.50,191.82 L524.00,191.93 L524.50,192.00 L525.00,192.01 L525.50,192.03 L526.00,192.05 L526.50,192.06 L527.00,192.08 L527.50,192.09 L528.00,192.10 L528.50,192.12 L529.00,192.13 L529.50,192.14 L530.00,192.15 L530.50,192.16 L531.00,192.17 L531.50,192.18 L532.00,192.19 L532.50,192.20 L533.00,192.21 L533.50,192.22 L534.00,192.23 L534.50,192.23 L535.00,192.24 L535.50,192.25 L536.00,192.25 L536.50,192.26 L537.00,192.26 L537.50,192.27 L538.00,192.27 L538.50,192.28 L539.00,192.28 L539.50,192.28 L540.00,192.29 L540.50,192.29 L541.00,192.29 L541.50,192.29 L542.00,192.30 L542.50,192.30 L543.00,192.30 L543.50,192.30 L544.00,192.30 L544.50,192.30 L545.00,192.30 L545.50,192.30 L546.00,192.30 L546.50,192.29 L547.00,192.29 L547.50,192.28 L548.00,192.27 L548.50,192.26 L549.00,192.25 L549.50,192.23 L550.00,192.22 L550.50,192.21 L551.00,192.19 L551.50,192.18 L552.00,192.16 L552.50,192.15 L553.00,192.13 L553.50,192.11 L554.00,192.10 L554.50,192.08 L555.00,192.06 L555.50,192.05 L556.00,192.03 L556.50,192.02 L557.00,192.01 L557.50,192.00 L558.00,191.98 L558.50,191.97 L559.00,191.96 L559.50,191.96 L560.00,191.95 L560.50,191.94 L561.00,191.93 L561.50,191.93 L562.00,191.92 L562.50,191.91 L563.00,191.90 L563.50,191.89 L564.00,191.89 L564.50,191.88 L565.00,191.86 L565.50,191.85 L566.00,191.84 L566.50,191.83 L567.00,191.81 L567.50,191.79 L568.00,191.77 L568.50,191.75 L569.00,191.73 L569.50,191.70 L570.00,191.64 L570.50,191.52 L571.00,191.35 L571.50,191.15 L572.00,190.94 L572.50,190.71 L573.00,190.50 L573.50,190.25 L574.00,189.94 L574.50,189.60 L575.00,189.26 L575.50,188.96 L576.00,188.73 L576.50,188.61 L577.00,188.61 L577.50,188.64 L578.00,188.71 L578.50,188.81 L579.00,188.92 L579.50,189.09 L580.00,189.56 L580.50,190.19 L581.00,190.78 L581.50,191.09 L582.00,191.08 L582.50,191.00 L583.00,190.88 L583.50,190.73 L584.00,190.57 L584.50,190.42 L585.00,190.30 L585.50,190.22 L586.00,190.20 L586.50,190.20 L587.00,190.21 L587.50,190.23 L588.00,190.24 L588.50,190.27 L589.00,190.29 L589.50,190.33 L590.00,190.36 L590.50,190.40 L591.00,190.45 L591.50,190.49 L592.00,190.54 L592.50,190.60 L593.00,190.65 L593.50,190.71 L594.00,190.77 L594.50,190.84 L595.00,190.91 L595.50,190.98 L596.00,191.05 L596.50,191.12 L597.00,191.20 L597.50,191.27 L598.00,191.35 L598.50,191.43 L599.00,191.51 L599.50,191.59 L600.00,191.67 L600.50,191.76 L601.00,191.84 L601.50,191.92 L602.00,192.01 L602.50,192.09 L603.00,192.17 L603.50,192.25 L604.00,192.34 L604.50,192.42 L605.00,192.50 L605.50,192.58 L606.00,192.65 L606.50,192.73 L607.00,192.81 L607.50,192.89 L608.00,192.97 L608.50,193.05 L609.00,193.14 L609.50,193.23 L610.00,193.32 L610.50,193.41 L611.00,193.50 L611.50,193.59 L612.00,193.69 L612.50,193.78 L613.00,193.88 L613.50,193.98 L614.00,194.08 L614.50,194.18 L615.00,194.28 L615.50,194.39 L616.00,194.49 L616.50,194.59 L617.00,194.70 L617.50,194.81 L618.00,194.91 L618.50,195.02 L619.00,195.13 L619.50,195.23 L620.00,195.34 L620.50,195.45 L621.00,195.56 L621.50,195.67 L622.00,195.77 L622.50,195.88 L623.00,195.99 L623.50,196.10 L624.00,196.21 L624.50,196.31 L625.00,196.42 L625.50,196.53 L626.00,196.63 L626.50,196.74 L627.00,196.84 L627.50,196.95 L628.00,197.07 L628.50,197.20 L629.00,197.33 L629.50,197.46 L630.00,197.60 L630.50,197.74 L631.00,197.88 L631.50,198.03 L632.00,198.17 L632.50,198.31 L633.00,198.46 L633.50,198.60 L634.00,198.74 L634.50,198.87 L635.00,199.00 L635.50,199.12 L636.00,199.24 L636.50,199.35 L637.00,199.46 L637.50,199.55 L638.00,199.64 L638.50,199.71 L639.00,199.77 L639.50,199.83 L640.00,199.86 L640.50,199.89 L641.00,199.90 L641.50,199.87 L642.00,199.77 L642.50,199.61 L643.00,199.38 L643.50,199.11 L644.00,198.80 L644.50,198.07 L645.00,196.84 L645.50,195.58 L646.00,194.78 L646.50,194.82 L647.00,195.47 L647.50,196.41 L648.00,197.40 L648.50,198.66 L649.00,200.09 L649.50,201.31 L650.00,202.19 L650.50,202.93 L651.00,203.40 L651.50,203.68 L652.00,203.92 L652.50,204.14 L653.00,204.34 L653.50,204.51 L654.00,204.67 L654.50,204.81 L655.00,204.93 L655.50,205.05 L656.00,205.16 L656.50,205.27 L657.00,205.37 L657.50,205.48 L658.00,205.60 L658.50,205.72 L659.00,205.85 L659.50,206.00 L660.00,206.16 L660.50,206.32 L661.00,206.49 L661.50,206.65 L662.00,206.82 L662.50,206.99 L663.00,207.16 L663.50,207.33 L664.00,207.49 L664.50,207.66 L665.00,207.82 L665.50,207.98 L666.00,208.14 L666.50,208.29 L667.00,208.43 L667.50,208.57 L668.00,208.71 L668.50,208.84 L669.00,208.97 L669.50,209.10 L670.00,209.23 L670.50,209.36 L671.00,209.49 L671.50,209.61 L672.00,209.73 L672.50,209.85 L673.00,209.97 L673.50,210.09 L674.00,210.20 L674.50,210.31 L675.00,210.42 L675.50,210.53 L676.00,210.64 L676.50,210.74 L677.00,210.84 L677.50,210.93 L678.00,211.03 L678.40,211.10" stroke="#000000"/>
<path d="M441.30,218.50 L442.60,70.00 L442.80,67.74 L443.00,66.06 L443.20,65.12 L443.40,65.12 L443.60,66.02 L443.80,67.63 L444.00,69.79 L444.20,72.30 L444.40,74.99 L444.60,77.68 L444.80,80.18 L445.00,82.40 L445.20,84.74 L445.40,87.20 L445.60,89.67 L445.80,92.05 L446.00,94.25 L446.20,96.17 L446.40,97.75 L446.60,99.13 L446.80,100.37 L447.00,101.50 L447.20,102.55 L447.40,103.56 L447.60,104.55 L447.80,105.56 L448.00,106.62 L448.20,107.75 L448.40,109.00 L448.60,110.39 L448.80,111.90 L449.00,113.52 L449.20,115.21 L449.40,116.96 L449.60,118.74 L449.80,120.52 L450.00,122.28 L450.20,123.99 L450.40,125.63 L450.60,127.18 L450.80,128.61 L451.00,129.89 L451.20,131.00 L451.40,131.99 L451.60,132.92 L451.80,133.80 L452.00,134.64 L452.20,135.44 L452.40,136.19 L452.60,136.92 L452.80,137.61 L453.00,138.28 L453.20,138.93 L453.40,139.57 L453.60,140.19 L453.80,140.81 L454.00,141.40 L454.20,141.97 L454.40,142.53 L454.60,143.07 L454.80,143.59 L455.00,144.10 L455.20,144.59 L455.40,145.08 L455.60,145.56 L455.80,146.03 L456.00,146.50 L456.20,146.96 L456.40,147.42 L456.60,147.88 L456.80,148.33 L457.00,148.78 L457.20,149.22 L457.40,149.66 L457.60,150.10 L457.80,150.53 L458.00,150.96 L458.20,151.38 L458.40,151.80 L458.60,152.22 L458.80,152.63 L459.00,153.04 L459.20,153.45 L459.40,153.85 L459.60,154.25 L459.80,154.64 L460.00,155.04 L460.20,155.43 L460.40,155.81 L460.60,156.19 L460.80,156.57 L461.00,156.95 L461.20,157.32 L461.40,157.69 L461.60,158.06 L461.80,158.42 L462.00,158.79 L462.20,159.14 L462.40,159.50 L462.60,159.86 L462.80,160.21 L463.00,160.57 L463.20,160.93 L463.40,161.29 L463.60,161.65 L463.80,162.01 L464.00,162.36 L464.20,162.71 L464.40,163.06 L464.60,163.39 L464.80,163.73 L465.00,164.05 L465.20,164.37 L465.40,164.68 L465.60,164.97 L465.80,165.26 L466.00,165.54 L466.20,165.80 L466.40,166.05 L466.60,166.28 L466.80,166.50 L467.00,166.71 L467.20,166.91 L467.40,167.11 L467.60,167.30 L467.80,167.48 L468.00,167.66 L468.20,167.84 L468.40,168.01 L468.60,168.17 L468.80,168.34 L469.00,168.49 L469.20,168.65 L469.40,168.80 L469.60,168.95 L469.80,169.10 L470.00,169.24 L470.20,169.38 L470.40,169.52 L470.60,169.66 L470.80,169.79 L471.00,169.93 L471.20,170.06 L471.40,170.19 L471.60,170.32 L471.80,170.45 L472.00,170.58 L472.20,170.72 L472.40,170.85 L472.60,170.98 L472.80,171.11 L473.30,171.45 L473.80,171.80 L474.30,172.16 L474.80,172.53 L475.30,172.91 L475.80,173.29 L476.30,173.68 L476.80,174.07 L477.30,174.46 L477.80,174.84 L478.30,175.22 L478.80,175.60 L479.30,175.97 L479.80,176.33 L480.30,176.67 L480.80,177.01 L481.30,177.32 L481.80,177.62 L482.30,177.91 L482.80,178.17 L483.30,178.40 L483.80,178.61 L484.30,178.80 L484.80,178.97 L485.30,179.13 L485.80,179.28 L486.30,179.42 L486.80,179.56 L487.30,179.69 L487.80,179.82 L488.30,179.94 L488.80,180.06 L489.30,180.17 L489.80,180.28 L490.30,180.38 L490.80,180.49 L491.30,180.58 L491.80,180.68 L492.30,180.78 L492.80,180.87 L493.30,180.96 L493.80,181.05 L494.30,181.14 L494.80,181.23 L495.30,181.33 L495.80,181.42 L496.30,181.51 L496.80,181.60 L497.30,181.70 L497.80,181.79 L498.30,181.88 L498.80,181.97 L499.30,182.06 L499.80,182.15 L500.30,182.23 L500.80,182.32 L501.30,182.40 L501.80,182.49 L502.30,182.57 L502.80,182.64 L503.30,182.72 L503.80,182.79 L504.30,182.86 L504.80,182.93 L505.30,182.99 L505.80,183.06 L506.30,183.11 L506.80,183.17 L507.30,183.22 L507.80,183.27 L508.30,183.31 L508.80,183.35 L509.30,183.39 L509.80,183.43 L510.30,183.47 L510.80,183.50 L511.30,183.53 L511.80,183.57 L512.30,183.60 L512.80,183.63 L513.30,183.66 L513.80,183.69 L514.30,183.73 L514.80,183.76 L515.30,183.80 L515.80,183.84 L516.30,183.88 L516.80,183.92 L517.30,183.97 L517.80,184.02 L518.30,184.07 L518.80,184.13 L519.30,184.19 L519.80,184.26 L520.30,184.32 L520.80,184.39 L521.30,184.47 L521.80,184.54 L522.30,184.62 L522.80,184.70 L523.30,184.78 L523.80,184.86 L524.30,184.95 L524.80,185.04 L525.30,185.12 L525.80,185.21 L526.30,185.30 L526.80,185.40 L527.30,185.49 L527.80,185.58 L528.30,185.67 L528.80,185.77 L529.30,185.86 L529.80,185.96 L530.30,186.05 L530.80,186.14 L531.30,186.23 L531.80,186.33 L532.30,186.42 L532.80,186.51 L533.30,186.59 L533.80,186.68 L534.30,186.77 L534.80,186.85 L535.30,186.93 L535.80,187.02 L536.30,187.11 L536.80,187.21 L537.30,187.31 L537.80,187.42 L538.30,187.52 L538.80,187.63 L539.30,187.73 L539.80,187.83 L540.30,187.93 L540.80,188.03 L541.30,188.11 L541.80,188.20 L542.30,188.27 L542.80,188.34 L543.30,188.40 L543.80,188.44 L544.30,188.47 L544.80,188.50 L545.30,188.50 L545.80,188.51 L546.30,188.52 L546.80,188.53 L547.30,188.53 L547.80,188.54 L548.30,188.55 L548.80,188.55 L549.30,188.56 L549.80,188.56 L550.30,188.57 L550.80,188.57 L551.30,188.58 L551.80,188.58 L552.30,188.58 L552.80,188.59 L553.30,188.59 L553.80,188.59 L554.30,188.59 L554.80,188.60 L555.30,188.60 L555.80,188.60 L556.30,188.60 L556.80,188.60 L557.30,188.60 L557.80,188.60 L558.30,188.60 L558.80,188.60 L559.30,188.60 L559.80,188.60 L560.30,188.60 L560.80,188.60 L561.30,188.60 L561.80,188.60 L562.30,188.60 L562.80,188.60 L563.30,188.60 L563.80,188.60 L564.30,188.60 L564.80,188.60 L565.30,188.60 L565.80,188.60 L566.30,188.60 L566.80,188.60 L567.30,188.60 L567.80,188.60 L568.30,188.60 L568.80,188.60 L569.30,188.60 L569.80,188.58 L570.30,188.49 L570.80,188.34 L571.30,188.13 L571.80,187.90 L572.30,187.65 L572.80,187.40 L573.30,187.14 L573.80,186.78 L574.30,186.36 L574.80,185.92 L575.30,185.52 L575.80,185.18 L576.30,184.96 L576.80,184.90 L577.30,184.95 L577.80,185.06 L578.30,185.21 L578.80,185.40 L579.30,185.60 L579.80,185.97 L580.30,186.54 L580.80,187.12 L581.30,187.52 L581.80,187.60 L582.30,187.56 L582.80,187.49 L583.30,187.39 L583.80,187.29 L584.30,187.19 L584.80,187.10 L585.30,187.03 L585.80,187.00 L586.30,187.00 L586.80,187.01 L587.30,187.03 L587.80,187.05 L588.30,187.08 L588.80,187.11 L589.30,187.15 L589.80,187.19 L590.30,187.24 L590.80,187.30 L591.30,187.36 L591.80,187.42 L592.30,187.49 L592.80,187.56 L593.30,187.64 L593.80,187.72 L594.30,187.80 L594.80,187.89 L595.30,187.98 L595.80,188.07 L596.30,188.16 L596.80,188.26 L597.30,188.36 L597.80,188.46 L598.30,188.56 L598.80,188.66 L599.30,188.77 L599.80,188.87 L600.30,188.98 L600.80,189.08 L601.30,189.19 L601.80,189.29 L602.30,189.40 L602.80,189.51 L603.30,189.61 L603.80,189.71 L604.30,189.82 L604.80,189.92 L605.30,190.02 L605.80,190.12 L606.30,190.21 L606.80,190.31 L607.30,190.40 L607.80,190.50 L608.30,190.61 L608.80,190.71 L609.30,190.81 L609.80,190.92 L610.30,191.03 L610.80,191.14 L611.30,191.25 L611.80,191.37 L612.30,191.48 L612.80,191.60 L613.30,191.71 L613.80,191.83 L614.30,191.95 L614.80,192.07 L615.30,192.19 L615.80,192.32 L616.30,192.44 L616.80,192.56 L617.30,192.69 L617.80,192.81 L618.30,192.94 L618.80,193.06 L619.30,193.19 L619.80,193.31 L620.30,193.44 L620.80,193.57 L621.30,193.69 L621.80,193.82 L622.30,193.94 L622.80,194.07 L623.30,194.19 L623.80,194.32 L624.30,194.44 L624.80,194.57 L625.30,194.69 L625.80,194.81 L626.30,194.93 L626.80,195.05 L627.30,195.18 L627.80,195.31 L628.30,195.45 L628.80,195.59 L629.30,195.74 L629.80,195.90 L630.30,196.05 L630.80,196.21 L631.30,196.38 L631.80,196.54 L632.30,196.70 L632.80,196.86 L633.30,197.02 L633.80,197.17 L634.30,197.33 L634.80,197.47 L635.30,197.61 L635.80,197.75 L636.30,197.88 L636.80,197.99 L637.30,198.10 L637.80,198.20 L638.30,198.29 L638.80,198.37 L639.30,198.43 L639.80,198.48 L640.30,198.51 L640.80,198.53 L641.30,198.53 L641.80,198.47 L642.30,198.34 L642.80,198.17 L643.30,197.95 L643.80,197.70 L644.30,197.26 L644.80,196.24 L645.30,195.01 L645.80,194.03 L646.30,193.74 L646.80,194.14 L647.30,194.91 L647.80,195.81 L648.30,196.82 L648.80,198.14 L649.30,199.47 L649.80,200.60 L650.30,201.71 L650.80,202.55 L651.30,202.92 L651.80,203.20 L652.30,203.45 L652.80,203.67 L653.30,203.86 L653.80,204.03 L654.30,204.18 L654.80,204.31 L655.30,204.43 L655.80,204.55 L656.30,204.65 L656.80,204.75 L657.30,204.86 L657.80,204.96 L658.30,205.08 L658.80,205.21 L659.30,205.35 L659.80,205.51 L660.30,205.67 L660.80,205.83 L661.30,206.00 L661.80,206.16 L662.30,206.33 L662.80,206.50 L663.30,206.66 L663.80,206.83 L664.30,206.99 L664.80,207.15 L665.30,207.31 L665.80,207.47 L666.30,207.62 L666.80,207.77 L667.30,207.91 L667.80,208.05 L668.30,208.18 L668.80,208.32 L669.30,208.45 L669.80,208.58 L670.30,208.71 L670.80,208.84 L671.30,208.97 L671.80,209.09 L672.30,209.21 L672.80,209.34 L673.30,209.45 L673.80,209.57 L674.30,209.69 L674.80,209.80 L675.30,209.91 L675.80,210.02 L676.30,210.13 L676.80,210.23 L677.30,210.33 L677.80,210.43 L678.30,210.53 L678.40,210.55" stroke="#e60a0a"/>
<path d="M452.15,218.50 L453.30,77.50 L453.50,77.02 L453.70,76.59 L453.90,76.40 L454.10,76.40 L454.30,76.40 L454.50,76.40 L454.70,76.40 L454.90,76.40 L455.10,76.40 L455.30,76.40 L455.50,76.40 L455.70,76.40 L455.90,76.40 L456.10,76.40 L456.30,76.40 L456.50,76.60 L456.70,77.14 L456.90,77.97 L457.10,79.02 L457.30,80.23 L457.50,81.53 L457.70,82.87 L457.90,84.18 L458.10,85.43 L458.30,86.80 L458.50,88.31 L458.70,89.90 L458.90,91.55 L459.10,93.23 L459.30,94.89 L459.50,96.50 L459.70,98.10 L459.90,99.72 L460.10,101.36 L460.30,103.01 L460.50,104.65 L460.70,106.29 L460.90,107.90 L461.10,109.48 L461.30,111.02 L461.50,112.50 L461.70,113.97 L461.90,115.46 L462.10,116.95 L462.30,118.45 L462.50,119.93 L462.70,121.39 L462.90,122.82 L463.10,124.21 L463.30,125.54 L463.50,126.80 L463.70,127.99 L463.90,129.09 L464.10,130.10 L464.30,131.00 L464.50,131.82 L464.70,132.58 L464.90,133.30 L465.10,133.98 L465.30,134.62 L465.50,135.24 L465.70,135.82 L465.90,136.39 L466.10,136.94 L466.30,137.48 L466.50,138.01 L466.70,138.53 L466.90,139.06 L467.10,139.57 L467.30,140.06 L467.50,140.53 L467.70,140.99 L467.90,141.44 L468.10,141.88 L468.30,142.32 L468.50,142.75 L468.70,143.19 L468.90,143.64 L469.10,144.09 L469.30,144.56 L469.50,145.04 L469.70,145.54 L469.90,146.06 L470.10,146.58 L470.30,147.12 L470.50,147.66 L470.70,148.22 L470.90,148.77 L471.10,149.33 L471.30,149.89 L471.50,150.44 L471.70,151.00 L471.90,151.54 L472.10,152.08 L472.30,152.60 L472.50,153.12 L472.70,153.62 L472.90,154.10 L473.10,154.56 L473.30,155.00 L473.50,155.42 L473.70,155.81 L473.90,156.18 L474.10,156.55 L474.30,156.90 L474.50,157.26 L474.70,157.62 L474.90,157.97 L475.10,158.31 L475.30,158.66 L475.50,159.00 L475.70,159.34 L475.90,159.67 L476.10,160.00 L476.30,160.33 L476.50,160.65 L476.70,160.97 L476.90,161.29 L477.10,161.60 L477.30,161.91 L477.50,162.22 L477.70,162.52 L477.90,162.82 L478.10,163.11 L478.30,163.40 L478.50,163.69 L478.70,163.97 L478.90,164.25 L479.10,164.52 L479.30,164.79 L479.50,165.05 L479.70,165.31 L479.90,165.57 L480.10,165.82 L480.30,166.07 L480.50,166.31 L480.70,166.55 L480.90,166.78 L481.10,167.01 L481.30,167.24 L481.50,167.46 L481.70,167.67 L481.90,167.88 L482.10,168.09 L482.30,168.29 L482.50,168.48 L482.70,168.67 L482.90,168.86 L483.10,169.04 L483.30,169.21 L483.50,169.38 L484.00,169.78 L484.50,170.14 L485.00,170.49 L485.50,170.83 L486.00,171.15 L486.50,171.46 L487.00,171.76 L487.50,172.04 L488.00,172.32 L488.50,172.58 L489.00,172.84 L489.50,173.08 L490.00,173.32 L490.50,173.55 L491.00,173.77 L491.50,173.99 L492.00,174.20 L492.50,174.40 L493.00,174.60 L493.50,174.79 L494.00,174.98 L494.50,175.17 L495.00,175.35 L495.50,175.53 L496.00,175.71 L496.50,175.88 L497.00,176.04 L497.50,176.21 L498.00,176.36 L498.50,176.52 L499.00,176.66 L499.50,176.81 L500.00,176.95 L500.50,177.09 L501.00,177.22 L501.50,177.36 L502.00,177.49 L502.50,177.62 L503.00,177.75 L503.50,177.87 L504.00,178.00 L504.50,178.13 L505.00,178.25 L505.50,178.38 L506.00,178.51 L506.50,178.64 L507.00,178.77 L507.50,178.91 L508.00,179.04 L508.50,179.18 L509.00,179.32 L509.50,179.45 L510.00,179.59 L510.50,179.73 L511.00,179.87 L511.50,180.01 L512.00,180.15 L512.50,180.29 L513.00,180.43 L513.50,180.57 L514.00,180.71 L514.50,180.84 L515.00,180.98 L515.50,181.12 L516.00,181.25 L516.50,181.38 L517.00,181.52 L517.50,181.64 L518.00,181.77 L518.50,181.90 L519.00,182.02 L519.50,182.14 L520.00,182.26 L520.50,182.38 L521.00,182.49 L521.50,182.60 L522.00,182.70 L522.50,182.81 L523.00,182.91 L523.50,183.00 L524.00,183.10 L524.50,183.18 L525.00,183.27 L525.50,183.35 L526.00,183.42 L526.50,183.49 L527.00,183.56 L527.50,183.63 L528.00,183.69 L528.50,183.75 L529.00,183.81 L529.50,183.87 L530.00,183.93 L530.50,183.99 L531.00,184.05 L531.50,184.11 L532.00,184.17 L532.50,184.23 L533.00,184.30 L533.50,184.36 L534.00,184.43 L534.50,184.51 L535.00,184.58 L535.50,184.67 L536.00,184.77 L536.50,184.87 L537.00,184.99 L537.50,185.12 L538.00,185.25 L538.50,185.38 L539.00,185.52 L539.50,185.65 L540.00,185.79 L540.50,185.92 L541.00,186.04 L541.50,186.16 L542.00,186.26 L542.50,186.36 L543.00,186.44 L543.50,186.51 L544.00,186.56 L544.50,186.59 L545.00,186.60 L545.50,186.60 L546.00,186.60 L546.50,186.60 L547.00,186.60 L547.50,186.59 L548.00,186.59 L548.50,186.59 L549.00,186.59 L549.50,186.58 L550.00,186.58 L550.50,186.57 L551.00,186.57 L551.50,186.57 L552.00,186.56 L552.50,186.56 L553.00,186.55 L553.50,186.54 L554.00,186.54 L554.50,186.53 L555.00,186.53 L555.50,186.52 L556.00,186.52 L556.50,186.51 L557.00,186.50 L557.50,186.50 L558.00,186.49 L558.50,186.49 L559.00,186.48 L559.50,186.47 L560.00,186.47 L560.50,186.46 L561.00,186.45 L561.50,186.45 L562.00,186.44 L562.50,186.43 L563.00,186.42 L563.50,186.41 L564.00,186.40 L564.50,186.39 L565.00,186.38 L565.50,186.36 L566.00,186.35 L566.50,186.33 L567.00,186.31 L567.50,186.29 L568.00,186.27 L568.50,186.25 L569.00,186.23 L569.50,186.20 L570.00,186.14 L570.50,186.02 L571.00,185.86 L571.50,185.66 L572.00,185.44 L572.50,185.22 L573.00,185.00 L573.50,184.74 L574.00,184.40 L574.50,184.02 L575.00,183.64 L575.50,183.31 L576.00,183.05 L576.50,182.91 L577.00,182.91 L577.50,182.99 L578.00,183.12 L578.50,183.28 L579.00,183.48 L579.50,183.71 L580.00,184.16 L580.50,184.72 L581.00,185.23 L581.50,185.49 L582.00,185.49 L582.50,185.47 L583.00,185.43 L583.50,185.38 L584.00,185.32 L584.50,185.27 L585.00,185.23 L585.50,185.21 L586.00,185.20 L586.50,185.21 L587.00,185.22 L587.50,185.24 L588.00,185.27 L588.50,185.30 L589.00,185.35 L589.50,185.39 L590.00,185.45 L590.50,185.51 L591.00,185.58 L591.50,185.65 L592.00,185.72 L592.50,185.81 L593.00,185.89 L593.50,185.98 L594.00,186.08 L594.50,186.17 L595.00,186.28 L595.50,186.38 L596.00,186.49 L596.50,186.60 L597.00,186.71 L597.50,186.83 L598.00,186.94 L598.50,187.06 L599.00,187.18 L599.50,187.30 L600.00,187.42 L600.50,187.54 L601.00,187.67 L601.50,187.79 L602.00,187.91 L602.50,188.03 L603.00,188.15 L603.50,188.27 L604.00,188.39 L604.50,188.50 L605.00,188.62 L605.50,188.73 L606.00,188.84 L606.50,188.94 L607.00,189.05 L607.50,189.16 L608.00,189.27 L608.50,189.39 L609.00,189.50 L609.50,189.62 L610.00,189.74 L610.50,189.86 L611.00,189.98 L611.50,190.10 L612.00,190.23 L612.50,190.35 L613.00,190.48 L613.50,190.61 L614.00,190.73 L614.50,190.86 L615.00,190.99 L615.50,191.13 L616.00,191.26 L616.50,191.39 L617.00,191.52 L617.50,191.66 L618.00,191.79 L618.50,191.92 L619.00,192.06 L619.50,192.19 L620.00,192.33 L620.50,192.46 L621.00,192.60 L621.50,192.73 L622.00,192.87 L622.50,193.00 L623.00,193.13 L623.50,193.27 L624.00,193.40 L624.50,193.53 L625.00,193.66 L625.50,193.80 L626.00,193.93 L626.50,194.05 L627.00,194.18 L627.50,194.32 L628.00,194.46 L628.50,194.61 L629.00,194.77 L629.50,194.93 L630.00,195.10 L630.50,195.26 L631.00,195.43 L631.50,195.61 L632.00,195.78 L632.50,195.95 L633.00,196.12 L633.50,196.28 L634.00,196.45 L634.50,196.60 L635.00,196.76 L635.50,196.90 L636.00,197.04 L636.50,197.17 L637.00,197.29 L637.50,197.40 L638.00,197.50 L638.50,197.59 L639.00,197.66 L639.50,197.72 L640.00,197.77 L640.50,197.80 L641.00,197.81 L641.50,197.79 L642.00,197.71 L642.50,197.58 L643.00,197.41 L643.50,197.19 L644.00,196.94 L644.50,196.30 L645.00,195.18 L645.50,194.03 L646.00,193.30 L646.50,193.32 L647.00,193.86 L647.50,194.66 L648.00,195.52 L648.50,196.63 L649.00,197.96 L649.50,199.24 L650.00,200.45 L650.50,201.65 L651.00,202.38 L651.50,202.70 L652.00,202.98 L652.50,203.22 L653.00,203.44 L653.50,203.62 L654.00,203.79 L654.50,203.93 L655.00,204.06 L655.50,204.18 L656.00,204.28 L656.50,204.39 L657.00,204.49 L657.50,204.59 L658.00,204.70 L658.50,204.82 L659.00,204.95 L659.50,205.10 L660.00,205.26 L660.50,205.42 L661.00,205.59 L661.50,205.75 L662.00,205.92 L662.50,206.08 L663.00,206.25 L663.50,206.41 L664.00,206.58 L664.50,206.74 L665.00,206.90 L665.50,207.05 L666.00,207.21 L666.50,207.36 L667.00,207.50 L667.50,207.64 L668.00,207.78 L668.50,207.92 L669.00,208.05 L669.50,208.18 L670.00,208.32 L670.50,208.45 L671.00,208.58 L671.50,208.70 L672.00,208.83 L672.50,208.95 L673.00,209.07 L673.50,209.19 L674.00,209.31 L674.50,209.43 L675.00,209.54 L675.50,209.65 L676.00,209.76 L676.50,209.87 L677.00,209.98 L677.50,210.08 L678.00,210.18 L678.40,210.26" stroke="#0a0ae0"/>
<path d="M463.00,218.50 L464.50,97.00 L464.70,94.71 L464.90,92.50 L465.10,90.52 L465.30,88.96 L465.50,88.00 L465.70,87.42 L465.90,86.87 L466.10,86.38 L466.30,85.94 L466.50,85.54 L466.70,85.20 L466.90,84.92 L467.10,84.70 L467.30,84.53 L467.50,84.43 L467.70,84.40 L467.90,84.45 L468.10,84.61 L468.30,84.85 L468.50,85.17 L468.70,85.55 L468.90,85.99 L469.10,86.46 L469.30,86.97 L469.50,87.50 L469.70,88.17 L469.90,89.06 L470.10,90.13 L470.30,91.32 L470.50,92.56 L470.70,93.81 L470.90,95.00 L471.10,96.17 L471.30,97.37 L471.50,98.59 L471.70,99.84 L471.90,101.10 L472.10,102.37 L472.30,103.64 L472.50,104.90 L472.70,106.18 L472.90,107.47 L473.10,108.76 L473.30,110.00 L473.50,111.22 L473.70,112.44 L473.90,113.67 L474.10,114.88 L474.30,116.09 L474.50,117.27 L474.70,118.41 L474.90,119.53 L475.10,120.59 L475.30,121.60 L475.50,122.55 L475.70,123.44 L475.90,124.29 L476.10,125.11 L476.30,125.91 L476.50,126.69 L476.70,127.44 L476.90,128.17 L477.10,128.89 L477.30,129.58 L477.50,130.26 L477.70,130.93 L477.90,131.58 L478.10,132.22 L478.30,132.85 L478.50,133.47 L478.70,134.08 L478.90,134.69 L479.10,135.30 L479.30,135.89 L479.50,136.47 L479.70,137.03 L479.90,137.57 L480.10,138.10 L480.30,138.62 L480.50,139.13 L480.70,139.63 L480.90,140.13 L481.10,140.63 L481.30,141.14 L481.50,141.64 L481.70,142.15 L481.90,142.67 L482.10,143.21 L482.30,143.75 L482.50,144.31 L482.70,144.90 L482.90,145.53 L483.10,146.19 L483.30,146.87 L483.50,147.55 L483.70,148.21 L483.90,148.83 L484.10,149.40 L484.30,149.90 L484.50,150.35 L484.70,150.79 L484.90,151.21 L485.10,151.62 L485.30,152.02 L485.50,152.40 L485.70,152.78 L485.90,153.14 L486.10,153.50 L486.30,153.85 L486.50,154.18 L486.70,154.51 L486.90,154.83 L487.10,155.15 L487.30,155.45 L487.50,155.76 L487.70,156.05 L487.90,156.34 L488.10,156.63 L488.30,156.91 L488.50,157.19 L488.70,157.47 L488.90,157.74 L489.10,158.02 L489.30,158.29 L489.50,158.56 L489.70,158.84 L489.90,159.11 L490.10,159.38 L490.30,159.64 L490.50,159.91 L490.70,160.17 L490.90,160.44 L491.10,160.69 L491.30,160.95 L491.50,161.21 L491.70,161.46 L491.90,161.71 L492.10,161.95 L492.30,162.19 L492.50,162.43 L492.70,162.67 L492.90,162.90 L493.10,163.13 L493.30,163.35 L493.50,163.57 L493.70,163.79 L493.90,164.00 L494.10,164.21 L494.30,164.41 L494.50,164.61 L494.70,164.81 L495.20,165.27 L495.70,165.70 L496.20,166.11 L496.70,166.51 L497.20,166.89 L497.70,167.27 L498.20,167.64 L498.70,168.00 L499.20,168.35 L499.70,168.69 L500.20,169.03 L500.70,169.35 L501.20,169.66 L501.70,169.97 L502.20,170.26 L502.70,170.55 L503.20,170.83 L503.70,171.10 L504.20,171.36 L504.70,171.61 L505.20,171.85 L505.70,172.09 L506.20,172.31 L506.70,172.53 L507.20,172.74 L507.70,172.94 L508.20,173.14 L508.70,173.33 L509.20,173.51 L509.70,173.69 L510.20,173.86 L510.70,174.03 L511.20,174.19 L511.70,174.35 L512.20,174.50 L512.70,174.66 L513.20,174.80 L513.70,174.95 L514.20,175.09 L514.70,175.23 L515.20,175.37 L515.70,175.51 L516.20,175.65 L516.70,175.78 L517.20,175.92 L517.70,176.05 L518.20,176.19 L518.70,176.32 L519.20,176.46 L519.70,176.60 L520.20,176.74 L520.70,176.88 L521.20,177.03 L521.70,177.18 L522.20,177.32 L522.70,177.47 L523.20,177.62 L523.70,177.76 L524.20,177.91 L524.70,178.06 L525.20,178.20 L525.70,178.35 L526.20,178.50 L526.70,178.64 L527.20,178.79 L527.70,178.93 L528.20,179.07 L528.70,179.21 L529.20,179.35 L529.70,179.49 L530.20,179.63 L530.70,179.77 L531.20,179.90 L531.70,180.04 L532.20,180.17 L532.70,180.30 L533.20,180.43 L533.70,180.56 L534.20,180.68 L534.70,180.80 L535.20,180.92 L535.70,181.04 L536.20,181.16 L536.70,181.28 L537.20,181.40 L537.70,181.52 L538.20,181.63 L538.70,181.75 L539.20,181.86 L539.70,181.97 L540.20,182.09 L540.70,182.19 L541.20,182.30 L541.70,182.40 L542.20,182.50 L542.70,182.60 L543.20,182.69 L543.70,182.78 L544.20,182.87 L544.70,182.95 L545.20,183.03 L545.70,183.11 L546.20,183.19 L546.70,183.27 L547.20,183.35 L547.70,183.42 L548.20,183.50 L548.70,183.58 L549.20,183.65 L549.70,183.72 L550.20,183.80 L550.70,183.87 L551.20,183.93 L551.70,184.00 L552.20,184.06 L552.70,184.12 L553.20,184.18 L553.70,184.23 L554.20,184.28 L554.70,184.33 L555.20,184.37 L555.70,184.41 L556.20,184.44 L556.70,184.47 L557.20,184.50 L557.70,184.52 L558.20,184.54 L558.70,184.56 L559.20,184.57 L559.70,184.59 L560.20,184.61 L560.70,184.63 L561.20,184.65 L561.70,184.66 L562.20,184.68 L562.70,184.69 L563.20,184.71 L563.70,184.72 L564.20,184.73 L564.70,184.74 L565.20,184.75 L565.70,184.76 L566.20,184.77 L566.70,184.78 L567.20,184.79 L567.70,184.79 L568.20,184.80 L568.70,184.80 L569.20,184.80 L569.70,184.79 L570.20,184.72 L570.70,184.58 L571.20,184.40 L571.70,184.18 L572.20,183.95 L572.70,183.73 L573.20,183.51 L573.70,183.25 L574.20,182.93 L574.70,182.61 L575.20,182.30 L575.70,182.04 L576.20,181.87 L576.70,181.80 L577.20,181.83 L577.70,181.92 L578.20,182.04 L578.70,182.19 L579.20,182.37 L579.70,182.62 L580.20,183.06 L580.70,183.53 L581.20,183.89 L581.70,184.00 L582.20,183.99 L582.70,183.97 L583.20,183.94 L583.70,183.90 L584.20,183.87 L584.70,183.84 L585.20,183.81 L585.70,183.80 L586.20,183.80 L586.70,183.81 L587.20,183.83 L587.70,183.85 L588.20,183.89 L588.70,183.93 L589.20,183.97 L589.70,184.03 L590.20,184.09 L590.70,184.15 L591.20,184.23 L591.70,184.30 L592.20,184.39 L592.70,184.48 L593.20,184.57 L593.70,184.67 L594.20,184.77 L594.70,184.87 L595.20,184.98 L595.70,185.09 L596.20,185.21 L596.70,185.33 L597.20,185.45 L597.70,185.57 L598.20,185.69 L598.70,185.82 L599.20,185.95 L599.70,186.08 L600.20,186.20 L600.70,186.33 L601.20,186.46 L601.70,186.59 L602.20,186.72 L602.70,186.85 L603.20,186.98 L603.70,187.10 L604.20,187.23 L604.70,187.35 L605.20,187.47 L605.70,187.58 L606.20,187.70 L606.70,187.81 L607.20,187.93 L607.70,188.05 L608.20,188.17 L608.70,188.29 L609.20,188.41 L609.70,188.54 L610.20,188.66 L610.70,188.79 L611.20,188.92 L611.70,189.06 L612.20,189.19 L612.70,189.32 L613.20,189.46 L613.70,189.60 L614.20,189.74 L614.70,189.87 L615.20,190.01 L615.70,190.16 L616.20,190.30 L616.70,190.44 L617.20,190.58 L617.70,190.72 L618.20,190.87 L618.70,191.01 L619.20,191.16 L619.70,191.30 L620.20,191.44 L620.70,191.59 L621.20,191.73 L621.70,191.87 L622.20,192.02 L622.70,192.16 L623.20,192.30 L623.70,192.44 L624.20,192.59 L624.70,192.73 L625.20,192.86 L625.70,193.00 L626.20,193.14 L626.70,193.28 L627.20,193.42 L627.70,193.56 L628.20,193.72 L628.70,193.88 L629.20,194.04 L629.70,194.22 L630.20,194.39 L630.70,194.57 L631.20,194.75 L631.70,194.93 L632.20,195.11 L632.70,195.28 L633.20,195.46 L633.70,195.63 L634.20,195.80 L634.70,195.97 L635.20,196.12 L635.70,196.27 L636.20,196.41 L636.70,196.55 L637.20,196.67 L637.70,196.78 L638.20,196.88 L638.70,196.97 L639.20,197.04 L639.70,197.09 L640.20,197.13 L640.70,197.16 L641.20,197.16 L641.70,197.12 L642.20,197.03 L642.70,196.90 L643.20,196.72 L643.70,196.51 L644.20,196.20 L644.70,195.35 L645.20,194.20 L645.70,193.19 L646.20,192.76 L646.70,193.02 L647.20,193.64 L647.70,194.45 L648.20,195.32 L648.70,196.51 L649.20,197.83 L649.70,199.09 L650.20,200.47 L650.70,201.68 L651.20,202.21 L651.70,202.51 L652.20,202.79 L652.70,203.02 L653.20,203.23 L653.70,203.41 L654.20,203.57 L654.70,203.71 L655.20,203.83 L655.70,203.94 L656.20,204.05 L656.70,204.15 L657.20,204.25 L657.70,204.35 L658.20,204.47 L658.70,204.59 L659.20,204.73 L659.70,204.89 L660.20,205.05 L660.70,205.21 L661.20,205.37 L661.70,205.54 L662.20,205.70 L662.70,205.87 L663.20,206.03 L663.70,206.20 L664.20,206.36 L664.70,206.52 L665.20,206.67 L665.70,206.83 L666.20,206.98 L666.70,207.13 L667.20,207.27 L667.70,207.41 L668.20,207.55 L668.70,207.68 L669.20,207.82 L669.70,207.95 L670.20,208.08 L670.70,208.21 L671.20,208.34 L671.70,208.47 L672.20,208.60 L672.70,208.72 L673.20,208.84 L673.70,208.96 L674.20,209.08 L674.70,209.20 L675.20,209.31 L675.70,209.43 L676.20,209.54 L676.70,209.65 L677.20,209.75 L677.70,209.86 L678.20,209.96 L678.40,210.00" stroke="#ea0aea"/>
<path d="M473.85,218.50 L475.20,66.00 L475.40,65.13 L475.60,64.33 L475.80,63.69 L476.00,63.30 L476.20,63.07 L476.40,62.86 L476.60,62.69 L476.80,62.55 L477.00,62.46 L477.20,62.41 L477.40,62.42 L477.60,62.58 L477.80,62.87 L478.00,63.26 L478.20,63.73 L478.40,64.24 L478.60,64.80 L478.80,65.59 L479.00,66.59 L479.20,67.76 L479.40,69.05 L479.60,70.42 L479.80,71.81 L480.00,73.20 L480.20,74.72 L480.40,76.35 L480.60,78.07 L480.80,79.87 L481.00,81.72 L481.20,83.60 L481.40,85.50 L481.60,87.37 L481.80,89.25 L482.00,91.23 L482.20,93.20 L482.40,95.00 L482.60,96.63 L482.80,98.17 L483.00,99.63 L483.20,101.00 L483.40,102.30 L483.60,103.52 L483.80,104.66 L484.00,105.75 L484.20,106.79 L484.40,107.81 L484.60,108.81 L484.80,109.81 L485.00,110.80 L485.20,111.78 L485.40,112.75 L485.60,113.71 L485.80,114.65 L486.00,115.57 L486.20,116.48 L486.40,117.37 L486.60,118.24 L486.80,119.09 L487.00,119.92 L487.20,120.73 L487.40,121.51 L487.60,122.27 L487.80,123.00 L488.00,123.71 L488.20,124.40 L488.40,125.07 L488.60,125.72 L488.80,126.36 L489.00,126.99 L489.20,127.60 L489.40,128.20 L489.60,128.79 L489.80,129.37 L490.00,129.94 L490.20,130.50 L490.40,131.05 L490.60,131.60 L490.80,132.14 L491.00,132.68 L491.20,133.21 L491.40,133.74 L491.60,134.26 L491.80,134.78 L492.00,135.30 L492.20,135.81 L492.40,136.31 L492.60,136.81 L492.80,137.30 L493.00,137.78 L493.20,138.26 L493.40,138.74 L493.60,139.21 L493.80,139.68 L494.00,140.14 L494.20,140.60 L494.40,141.05 L494.60,141.50 L494.80,141.94 L495.00,142.38 L495.20,142.82 L495.40,143.25 L495.60,143.69 L495.80,144.11 L496.00,144.54 L496.20,144.97 L496.40,145.40 L496.60,145.82 L496.80,146.25 L497.00,146.67 L497.20,147.09 L497.40,147.50 L497.60,147.91 L497.80,148.32 L498.00,148.72 L498.20,149.12 L498.40,149.51 L498.60,149.89 L498.80,150.27 L499.00,150.63 L499.20,150.99 L499.40,151.35 L499.60,151.69 L499.80,152.02 L500.00,152.34 L500.20,152.66 L500.40,152.96 L500.60,153.27 L500.80,153.57 L501.00,153.87 L501.20,154.17 L501.40,154.46 L501.60,154.76 L501.80,155.04 L502.00,155.33 L502.20,155.61 L502.40,155.89 L502.60,156.16 L502.80,156.43 L503.00,156.70 L503.20,156.97 L503.40,157.23 L503.60,157.48 L503.80,157.74 L504.00,157.99 L504.20,158.23 L504.40,158.47 L504.60,158.71 L504.80,158.94 L505.00,159.17 L505.20,159.39 L505.40,159.61 L505.90,160.15 L506.40,160.65 L506.90,161.12 L507.40,161.56 L507.90,161.99 L508.40,162.40 L508.90,162.79 L509.40,163.16 L509.90,163.53 L510.40,163.88 L510.90,164.22 L511.40,164.55 L511.90,164.87 L512.40,165.18 L512.90,165.49 L513.40,165.79 L513.90,166.09 L514.40,166.39 L514.90,166.68 L515.40,166.98 L515.90,167.27 L516.40,167.57 L516.90,167.87 L517.40,168.18 L517.90,168.49 L518.40,168.80 L518.90,169.12 L519.40,169.44 L519.90,169.76 L520.40,170.09 L520.90,170.41 L521.40,170.73 L521.90,171.05 L522.40,171.36 L522.90,171.67 L523.40,171.98 L523.90,172.27 L524.40,172.57 L524.90,172.85 L525.40,173.12 L525.90,173.39 L526.40,173.64 L526.90,173.88 L527.40,174.11 L527.90,174.32 L528.40,174.52 L528.90,174.71 L529.40,174.90 L529.90,175.07 L530.40,175.25 L530.90,175.41 L531.40,175.58 L531.90,175.73 L532.40,175.89 L532.90,176.04 L533.40,176.18 L533.90,176.32 L534.40,176.46 L534.90,176.60 L535.40,176.74 L535.90,176.87 L536.40,177.01 L536.90,177.14 L537.40,177.28 L537.90,177.41 L538.40,177.55 L538.90,177.68 L539.40,177.82 L539.90,177.95 L540.40,178.08 L540.90,178.21 L541.40,178.34 L541.90,178.47 L542.40,178.59 L542.90,178.72 L543.40,178.84 L543.90,178.95 L544.40,179.07 L544.90,179.18 L545.40,179.29 L545.90,179.39 L546.40,179.50 L546.90,179.61 L547.40,179.71 L547.90,179.82 L548.40,179.92 L548.90,180.02 L549.40,180.12 L549.90,180.22 L550.40,180.32 L550.90,180.42 L551.40,180.51 L551.90,180.61 L552.40,180.70 L552.90,180.79 L553.40,180.88 L553.90,180.96 L554.40,181.05 L554.90,181.13 L555.40,181.21 L555.90,181.29 L556.40,181.37 L556.90,181.44 L557.40,181.51 L557.90,181.59 L558.40,181.66 L558.90,181.74 L559.40,181.81 L559.90,181.89 L560.40,181.97 L560.90,182.05 L561.40,182.13 L561.90,182.20 L562.40,182.27 L562.90,182.35 L563.40,182.42 L563.90,182.48 L564.40,182.55 L564.90,182.61 L565.40,182.66 L565.90,182.71 L566.40,182.76 L566.90,182.80 L567.40,182.83 L567.90,182.86 L568.40,182.88 L568.90,182.89 L569.40,182.90 L569.90,182.88 L570.40,182.78 L570.90,182.64 L571.40,182.46 L571.90,182.25 L572.40,182.04 L572.90,181.84 L573.40,181.62 L573.90,181.34 L574.40,181.02 L574.90,180.69 L575.40,180.40 L575.90,180.16 L576.40,180.03 L576.90,180.01 L577.40,180.08 L577.90,180.22 L578.40,180.41 L578.90,180.62 L579.40,180.85 L579.90,181.23 L580.40,181.73 L580.90,182.19 L581.40,182.47 L581.90,182.50 L582.40,182.49 L582.90,182.48 L583.40,182.46 L583.90,182.44 L584.40,182.43 L584.90,182.41 L585.40,182.40 L585.90,182.40 L586.40,182.40 L586.90,182.42 L587.40,182.44 L587.90,182.47 L588.40,182.50 L588.90,182.55 L589.40,182.60 L589.90,182.65 L590.40,182.72 L590.90,182.79 L591.40,182.86 L591.90,182.94 L592.40,183.03 L592.90,183.12 L593.40,183.22 L593.90,183.32 L594.40,183.42 L594.90,183.53 L595.40,183.64 L595.90,183.76 L596.40,183.88 L596.90,184.00 L597.40,184.12 L597.90,184.25 L598.40,184.38 L598.90,184.51 L599.40,184.64 L599.90,184.77 L600.40,184.90 L600.90,185.03 L601.40,185.16 L601.90,185.30 L602.40,185.43 L602.90,185.56 L603.40,185.69 L603.90,185.82 L604.40,185.95 L604.90,186.07 L605.40,186.20 L605.90,186.32 L606.40,186.44 L606.90,186.55 L607.40,186.68 L607.90,186.80 L608.40,186.93 L608.90,187.06 L609.40,187.19 L609.90,187.32 L610.40,187.46 L610.90,187.60 L611.40,187.74 L611.90,187.88 L612.40,188.02 L612.90,188.17 L613.40,188.32 L613.90,188.46 L614.40,188.61 L614.90,188.76 L615.40,188.91 L615.90,189.06 L616.40,189.22 L616.90,189.37 L617.40,189.52 L617.90,189.68 L618.40,189.83 L618.90,189.99 L619.40,190.14 L619.90,190.30 L620.40,190.45 L620.90,190.61 L621.40,190.76 L621.90,190.92 L622.40,191.07 L622.90,191.22 L623.40,191.38 L623.90,191.53 L624.40,191.68 L624.90,191.83 L625.40,191.98 L625.90,192.12 L626.40,192.27 L626.90,192.41 L627.40,192.56 L627.90,192.72 L628.40,192.89 L628.90,193.06 L629.40,193.24 L629.90,193.42 L630.40,193.61 L630.90,193.79 L631.40,193.98 L631.90,194.17 L632.40,194.36 L632.90,194.55 L633.40,194.73 L633.90,194.91 L634.40,195.08 L634.90,195.25 L635.40,195.42 L635.90,195.57 L636.40,195.71 L636.90,195.85 L637.40,195.97 L637.90,196.08 L638.40,196.18 L638.90,196.27 L639.40,196.34 L639.90,196.39 L640.40,196.43 L640.90,196.44 L641.40,196.43 L641.90,196.38 L642.40,196.28 L642.90,196.15 L643.40,195.97 L643.90,195.77 L644.40,195.31 L644.90,194.32 L645.40,193.21 L645.90,192.41 L646.40,192.29 L646.90,192.69 L647.40,193.36 L647.90,194.13 L648.40,195.08 L648.90,196.32 L649.40,197.63 L649.90,198.98 L650.40,200.53 L650.90,201.62 L651.40,201.99 L651.90,202.29 L652.40,202.56 L652.90,202.79 L653.40,202.99 L653.90,203.16 L654.40,203.31 L654.90,203.45 L655.40,203.57 L655.90,203.68 L656.40,203.78 L656.90,203.88 L657.40,203.98 L657.90,204.09 L658.40,204.20 L658.90,204.33 L659.40,204.48 L659.90,204.64 L660.40,204.80 L660.90,204.97 L661.40,205.13 L661.90,205.29 L662.40,205.46 L662.90,205.62 L663.40,205.78 L663.90,205.95 L664.40,206.11 L664.90,206.26 L665.40,206.42 L665.90,206.57 L666.40,206.72 L666.90,206.87 L667.40,207.01 L667.90,207.15 L668.40,207.28 L668.90,207.42 L669.40,207.56 L669.90,207.69 L670.40,207.82 L670.90,207.95 L671.40,208.08 L671.90,208.21 L672.40,208.33 L672.90,208.46 L673.40,208.58 L673.90,208.70 L674.40,208.82 L674.90,208.94 L675.40,209.06 L675.90,209.17 L676.40,209.28 L676.90,209.39 L677.40,209.50 L677.90,209.60 L678.40,209.71 L678.40,209.71" stroke="#007800"/>
<path d="M484.70,218.50 L485.70,104.90 L485.90,96.69 L486.10,90.00 L486.30,84.62 L486.50,79.90 L486.70,76.27 L486.90,73.97 L487.10,72.09 L487.30,70.47 L487.50,69.13 L487.70,68.06 L487.90,67.28 L488.10,66.76 L488.30,66.31 L488.50,65.91 L488.70,65.58 L488.90,65.34 L489.10,65.22 L489.30,65.21 L489.50,65.29 L489.70,65.43 L489.90,65.63 L490.10,65.88 L490.30,66.18 L490.50,66.50 L490.70,67.05 L490.90,67.97 L491.10,69.18 L491.30,70.62 L491.50,72.21 L491.70,73.86 L491.90,75.51 L492.10,77.07 L492.30,78.52 L492.50,80.01 L492.70,81.56 L492.90,83.16 L493.10,84.78 L493.30,86.41 L493.50,88.04 L493.70,89.63 L493.90,91.18 L494.10,92.67 L494.30,94.08 L494.50,95.39 L494.70,96.59 L494.90,97.72 L495.10,98.81 L495.30,99.84 L495.50,100.84 L495.70,101.80 L495.90,102.74 L496.10,103.65 L496.30,104.55 L496.50,105.44 L496.70,106.32 L496.90,107.19 L497.10,108.05 L497.30,108.89 L497.50,109.72 L497.70,110.54 L497.90,111.35 L498.10,112.15 L498.30,112.94 L498.50,113.71 L498.70,114.47 L498.90,115.23 L499.10,115.97 L499.30,116.70 L499.50,117.41 L499.70,118.12 L499.90,118.82 L500.10,119.50 L500.30,120.17 L500.50,120.83 L500.70,121.48 L500.90,122.12 L501.10,122.76 L501.30,123.38 L501.50,123.99 L501.70,124.59 L501.90,125.19 L502.10,125.77 L502.30,126.36 L502.50,126.93 L502.70,127.50 L502.90,128.06 L503.10,128.62 L503.30,129.18 L503.50,129.73 L503.70,130.27 L503.90,130.83 L504.10,131.38 L504.30,131.93 L504.50,132.49 L504.70,133.04 L504.90,133.59 L505.10,134.13 L505.30,134.66 L505.50,135.18 L505.70,135.69 L505.90,136.19 L506.10,136.67 L506.30,137.14 L506.50,137.59 L506.70,138.01 L506.90,138.42 L507.10,138.80 L507.30,139.16 L507.50,139.50 L507.70,139.83 L507.90,140.15 L508.10,140.45 L508.30,140.75 L508.50,141.03 L508.70,141.31 L508.90,141.58 L509.10,141.85 L509.30,142.12 L509.50,142.38 L509.70,142.65 L509.90,142.92 L510.10,143.19 L510.30,143.47 L510.50,143.75 L510.70,144.05 L510.90,144.34 L511.10,144.64 L511.30,144.93 L511.50,145.23 L511.70,145.53 L511.90,145.83 L512.10,146.13 L512.30,146.43 L512.50,146.73 L512.70,147.03 L512.90,147.33 L513.10,147.63 L513.30,147.93 L513.50,148.23 L513.70,148.53 L513.90,148.82 L514.10,149.12 L514.30,149.42 L514.50,149.71 L514.70,150.01 L514.90,150.30 L515.10,150.59 L515.30,150.88 L515.50,151.17 L515.70,151.46 L515.90,151.74 L516.40,152.46 L516.90,153.19 L517.40,153.92 L517.90,154.65 L518.40,155.37 L518.90,156.10 L519.40,156.81 L519.90,157.51 L520.40,158.20 L520.90,158.87 L521.40,159.52 L521.90,160.14 L522.40,160.73 L522.90,161.30 L523.40,161.85 L523.90,162.39 L524.40,162.93 L524.90,163.46 L525.40,163.99 L525.90,164.50 L526.40,165.01 L526.90,165.50 L527.40,165.97 L527.90,166.43 L528.40,166.88 L528.90,167.30 L529.40,167.70 L529.90,168.09 L530.40,168.44 L530.90,168.78 L531.40,169.08 L531.90,169.37 L532.40,169.64 L532.90,169.90 L533.40,170.15 L533.90,170.39 L534.40,170.62 L534.90,170.84 L535.40,171.05 L535.90,171.26 L536.40,171.45 L536.90,171.64 L537.40,171.83 L537.90,172.00 L538.40,172.17 L538.90,172.34 L539.40,172.50 L539.90,172.65 L540.40,172.80 L540.90,172.94 L541.40,173.07 L541.90,173.19 L542.40,173.30 L542.90,173.41 L543.40,173.52 L543.90,173.64 L544.40,173.75 L544.90,173.87 L545.40,174.01 L545.90,174.14 L546.40,174.29 L546.90,174.44 L547.40,174.60 L547.90,174.75 L548.40,174.92 L548.90,175.08 L549.40,175.25 L549.90,175.42 L550.40,175.58 L550.90,175.75 L551.40,175.92 L551.90,176.08 L552.40,176.24 L552.90,176.40 L553.40,176.55 L553.90,176.70 L554.40,176.84 L554.90,176.97 L555.40,177.10 L555.90,177.22 L556.40,177.33 L556.90,177.43 L557.40,177.52 L557.90,177.60 L558.40,177.69 L558.90,177.78 L559.40,177.87 L559.90,177.95 L560.40,178.04 L560.90,178.12 L561.40,178.21 L561.90,178.29 L562.40,178.37 L562.90,178.44 L563.40,178.51 L563.90,178.58 L564.40,178.65 L564.90,178.71 L565.40,178.76 L565.90,178.81 L566.40,178.86 L566.90,178.90 L567.40,178.93 L567.90,178.96 L568.40,178.98 L568.90,178.99 L569.40,179.00 L569.90,178.98 L570.40,178.90 L570.90,178.77 L571.40,178.60 L571.90,178.42 L572.40,178.22 L572.90,178.04 L573.40,177.83 L573.90,177.57 L574.40,177.26 L574.90,176.96 L575.40,176.68 L575.90,176.46 L576.40,176.32 L576.90,176.31 L577.40,176.40 L577.90,176.57 L578.40,176.81 L578.90,177.07 L579.40,177.37 L579.90,177.89 L580.40,178.59 L580.90,179.25 L581.40,179.66 L581.90,179.70 L582.40,179.70 L582.90,179.70 L583.40,179.70 L583.90,179.70 L584.40,179.70 L584.90,179.70 L585.40,179.70 L585.90,179.70 L586.40,179.71 L586.90,179.72 L587.40,179.75 L587.90,179.78 L588.40,179.83 L588.90,179.88 L589.40,179.95 L589.90,180.02 L590.40,180.10 L590.90,180.18 L591.40,180.28 L591.90,180.38 L592.40,180.48 L592.90,180.60 L593.40,180.72 L593.90,180.84 L594.40,180.97 L594.90,181.10 L595.40,181.24 L595.90,181.39 L596.40,181.53 L596.90,181.68 L597.40,181.83 L597.90,181.98 L598.40,182.14 L598.90,182.30 L599.40,182.46 L599.90,182.62 L600.40,182.78 L600.90,182.94 L601.40,183.10 L601.90,183.26 L602.40,183.41 L602.90,183.57 L603.40,183.73 L603.90,183.88 L604.40,184.03 L604.90,184.18 L605.40,184.33 L605.90,184.47 L606.40,184.61 L606.90,184.74 L607.40,184.88 L607.90,185.03 L608.40,185.17 L608.90,185.32 L609.40,185.47 L609.90,185.62 L610.40,185.77 L610.90,185.92 L611.40,186.08 L611.90,186.23 L612.40,186.39 L612.90,186.55 L613.40,186.71 L613.90,186.87 L614.40,187.04 L614.90,187.20 L615.40,187.36 L615.90,187.53 L616.40,187.69 L616.90,187.86 L617.40,188.02 L617.90,188.19 L618.40,188.36 L618.90,188.52 L619.40,188.69 L619.90,188.86 L620.40,189.02 L620.90,189.19 L621.40,189.35 L621.90,189.52 L622.40,189.68 L622.90,189.85 L623.40,190.01 L623.90,190.17 L624.40,190.34 L624.90,190.50 L625.40,190.66 L625.90,190.81 L626.40,190.97 L626.90,191.13 L627.40,191.29 L627.90,191.46 L628.40,191.64 L628.90,191.82 L629.40,192.01 L629.90,192.21 L630.40,192.41 L630.90,192.61 L631.40,192.81 L631.90,193.01 L632.40,193.21 L632.90,193.41 L633.40,193.61 L633.90,193.80 L634.40,193.99 L634.90,194.17 L635.40,194.34 L635.90,194.50 L636.40,194.66 L636.90,194.80 L637.40,194.93 L637.90,195.05 L638.40,195.16 L638.90,195.25 L639.40,195.32 L639.90,195.38 L640.40,195.42 L640.90,195.43 L641.40,195.43 L641.90,195.38 L642.40,195.30 L642.90,195.19 L643.40,195.04 L643.90,194.87 L644.40,194.44 L644.90,193.51 L645.40,192.46 L645.90,191.69 L646.40,191.57 L646.90,191.93 L647.40,192.53 L647.90,193.23 L648.40,194.13 L648.90,195.32 L649.40,196.64 L649.90,198.08 L650.40,199.86 L650.90,201.12 L651.40,201.51 L651.90,201.82 L652.40,202.10 L652.90,202.34 L653.40,202.54 L653.90,202.72 L654.40,202.88 L654.90,203.01 L655.40,203.13 L655.90,203.24 L656.40,203.35 L656.90,203.45 L657.40,203.55 L657.90,203.65 L658.40,203.77 L658.90,203.90 L659.40,204.05 L659.90,204.21 L660.40,204.37 L660.90,204.53 L661.40,204.70 L661.90,204.86 L662.40,205.02 L662.90,205.18 L663.40,205.34 L663.90,205.50 L664.40,205.66 L664.90,205.82 L665.40,205.97 L665.90,206.12 L666.40,206.27 L666.90,206.42 L667.40,206.56 L667.90,206.70 L668.40,206.84 L668.90,206.97 L669.40,207.11 L669.90,207.25 L670.40,207.38 L670.90,207.51 L671.40,207.64 L671.90,207.77 L672.40,207.90 L672.90,208.02 L673.40,208.15 L673.90,208.27 L674.40,208.39 L674.90,208.51 L675.40,208.63 L675.90,208.75 L676.40,208.86 L676.90,208.98 L677.40,209.09 L677.90,209.20 L678.40,209.30 L678.40,209.30" stroke="#00007a"/>
<path d="M495.55,218.50 L496.60,53.00 L496.80,52.37 L497.00,51.78 L497.20,51.27 L497.40,50.91 L497.60,50.72 L497.80,50.56 L498.00,50.42 L498.20,50.30 L498.40,50.20 L498.60,50.11 L498.80,50.05 L499.00,50.01 L499.20,50.00 L499.40,50.08 L499.60,50.32 L499.80,50.68 L500.00,51.15 L500.20,51.70 L500.40,52.42 L500.60,53.76 L500.80,55.43 L501.00,57.00 L501.20,58.33 L501.40,59.59 L501.60,60.83 L501.80,62.10 L502.00,63.44 L502.20,64.90 L502.40,66.55 L502.60,68.38 L502.80,70.32 L503.00,72.31 L503.20,74.27 L503.40,76.12 L503.60,77.80 L503.80,79.36 L504.00,80.91 L504.20,82.43 L504.40,83.92 L504.60,85.38 L504.80,86.80 L505.00,88.17 L505.20,89.48 L505.40,90.73 L505.60,91.92 L505.80,93.03 L506.00,94.06 L506.20,95.00 L506.40,95.87 L506.60,96.68 L506.80,97.44 L507.00,98.16 L507.20,98.84 L507.40,99.50 L507.60,100.13 L507.80,100.75 L508.00,101.35 L508.20,101.95 L508.40,102.56 L508.60,103.17 L508.80,103.80 L509.00,104.43 L509.20,105.06 L509.40,105.68 L509.60,106.29 L509.80,106.90 L510.00,107.50 L510.20,108.10 L510.40,108.70 L510.60,109.29 L510.80,109.88 L511.00,110.47 L511.20,111.05 L511.40,111.64 L511.60,112.23 L511.80,112.82 L512.00,113.41 L512.20,114.00 L512.40,114.60 L512.60,115.20 L512.80,115.80 L513.00,116.40 L513.20,117.01 L513.40,117.62 L513.60,118.23 L513.80,118.84 L514.00,119.45 L514.20,120.06 L514.40,120.67 L514.60,121.27 L514.80,121.88 L515.00,122.48 L515.20,123.09 L515.40,123.69 L515.60,124.28 L515.80,124.88 L516.00,125.47 L516.20,126.05 L516.40,126.63 L516.60,127.21 L516.80,127.78 L517.00,128.35 L517.20,128.90 L517.40,129.46 L517.60,130.00 L517.80,130.54 L518.00,131.09 L518.20,131.63 L518.40,132.18 L518.60,132.72 L518.80,133.26 L519.00,133.79 L519.20,134.32 L519.40,134.84 L519.60,135.35 L519.80,135.85 L520.00,136.35 L520.20,136.83 L520.40,137.29 L520.60,137.74 L520.80,138.18 L521.00,138.60 L521.20,139.00 L521.40,139.38 L521.60,139.76 L521.80,140.12 L522.00,140.47 L522.20,140.82 L522.40,141.15 L522.60,141.48 L522.80,141.81 L523.00,142.12 L523.20,142.44 L523.40,142.75 L523.60,143.05 L523.80,143.36 L524.00,143.67 L524.20,143.98 L524.40,144.29 L524.60,144.60 L524.80,144.91 L525.00,145.23 L525.20,145.54 L525.40,145.86 L525.60,146.17 L525.80,146.48 L526.00,146.79 L526.20,147.10 L526.40,147.41 L526.60,147.71 L527.10,148.48 L527.60,149.23 L528.10,149.97 L528.60,150.69 L529.10,151.40 L529.60,152.09 L530.10,152.77 L530.60,153.45 L531.10,154.13 L531.60,154.81 L532.10,155.49 L532.60,156.17 L533.10,156.83 L533.60,157.49 L534.10,158.14 L534.60,158.77 L535.10,159.39 L535.60,159.98 L536.10,160.56 L536.60,161.11 L537.10,161.63 L537.60,162.12 L538.10,162.58 L538.60,163.00 L539.10,163.40 L539.60,163.77 L540.10,164.13 L540.60,164.48 L541.10,164.81 L541.60,165.12 L542.10,165.43 L542.60,165.72 L543.10,166.00 L543.60,166.27 L544.10,166.54 L544.60,166.80 L545.10,167.05 L545.60,167.30 L546.10,167.54 L546.60,167.78 L547.10,168.02 L547.60,168.24 L548.10,168.47 L548.60,168.69 L549.10,168.91 L549.60,169.12 L550.10,169.33 L550.60,169.54 L551.10,169.74 L551.60,169.94 L552.10,170.13 L552.60,170.32 L553.10,170.51 L553.60,170.70 L554.10,170.88 L554.60,171.06 L555.10,171.24 L555.60,171.42 L556.10,171.59 L556.60,171.76 L557.10,171.93 L557.60,172.10 L558.10,172.28 L558.60,172.46 L559.10,172.65 L559.60,172.84 L560.10,173.03 L560.60,173.22 L561.10,173.41 L561.60,173.60 L562.10,173.79 L562.60,173.98 L563.10,174.16 L563.60,174.33 L564.10,174.50 L564.60,174.66 L565.10,174.80 L565.60,174.94 L566.10,175.07 L566.60,175.18 L567.10,175.27 L567.60,175.36 L568.10,175.42 L568.60,175.47 L569.10,175.49 L569.60,175.50 L570.10,175.46 L570.60,175.37 L571.10,175.24 L571.60,175.08 L572.10,174.91 L572.60,174.73 L573.10,174.57 L573.60,174.35 L574.10,174.09 L574.60,173.80 L575.10,173.51 L575.60,173.27 L576.10,173.09 L576.60,173.00 L577.10,173.03 L577.60,173.16 L578.10,173.36 L578.60,173.61 L579.10,173.89 L579.60,174.25 L580.10,174.89 L580.60,175.63 L581.10,176.25 L581.60,176.50 L582.10,176.50 L582.60,176.50 L583.10,176.50 L583.60,176.50 L584.10,176.50 L584.60,176.50 L585.10,176.50 L585.60,176.50 L586.10,176.50 L586.60,176.51 L587.10,176.54 L587.60,176.57 L588.10,176.62 L588.60,176.68 L589.10,176.75 L589.60,176.82 L590.10,176.91 L590.60,177.01 L591.10,177.12 L591.60,177.23 L592.10,177.35 L592.60,177.48 L593.10,177.62 L593.60,177.76 L594.10,177.91 L594.60,178.07 L595.10,178.23 L595.60,178.39 L596.10,178.56 L596.60,178.74 L597.10,178.91 L597.60,179.09 L598.10,179.27 L598.60,179.46 L599.10,179.64 L599.60,179.83 L600.10,180.02 L600.60,180.21 L601.10,180.39 L601.60,180.58 L602.10,180.77 L602.60,180.95 L603.10,181.13 L603.60,181.31 L604.10,181.49 L604.60,181.66 L605.10,181.83 L605.60,182.00 L606.10,182.16 L606.60,182.31 L607.10,182.47 L607.60,182.63 L608.10,182.80 L608.60,182.96 L609.10,183.13 L609.60,183.30 L610.10,183.46 L610.60,183.64 L611.10,183.81 L611.60,183.98 L612.10,184.16 L612.60,184.34 L613.10,184.51 L613.60,184.69 L614.10,184.87 L614.60,185.05 L615.10,185.23 L615.60,185.41 L616.10,185.60 L616.60,185.78 L617.10,185.96 L617.60,186.14 L618.10,186.33 L618.60,186.51 L619.10,186.69 L619.60,186.88 L620.10,187.06 L620.60,187.24 L621.10,187.42 L621.60,187.61 L622.10,187.79 L622.60,187.97 L623.10,188.15 L623.60,188.33 L624.10,188.50 L624.60,188.68 L625.10,188.85 L625.60,189.03 L626.10,189.20 L626.60,189.37 L627.10,189.54 L627.60,189.72 L628.10,189.91 L628.60,190.11 L629.10,190.32 L629.60,190.52 L630.10,190.74 L630.60,190.95 L631.10,191.17 L631.60,191.39 L632.10,191.61 L632.60,191.83 L633.10,192.04 L633.60,192.25 L634.10,192.46 L634.60,192.66 L635.10,192.85 L635.60,193.03 L636.10,193.20 L636.60,193.37 L637.10,193.52 L637.60,193.65 L638.10,193.77 L638.60,193.88 L639.10,193.97 L639.60,194.04 L640.10,194.10 L640.60,194.13 L641.10,194.14 L641.60,194.12 L642.10,194.08 L642.60,194.01 L643.10,193.91 L643.60,193.79 L644.10,193.63 L644.60,193.03 L645.10,192.07 L645.60,191.14 L646.10,190.64 L646.60,190.74 L647.10,191.14 L647.60,191.71 L648.10,192.36 L648.60,193.33 L649.10,194.56 L649.60,195.90 L650.10,197.74 L650.60,199.73 L651.10,200.68 L651.60,201.03 L652.10,201.34 L652.60,201.61 L653.10,201.84 L653.60,202.04 L654.10,202.22 L654.60,202.37 L655.10,202.50 L655.60,202.62 L656.10,202.72 L656.60,202.83 L657.10,202.93 L657.60,203.03 L658.10,203.14 L658.60,203.26 L659.10,203.40 L659.60,203.55 L660.10,203.72 L660.60,203.88 L661.10,204.04 L661.60,204.20 L662.10,204.36 L662.60,204.52 L663.10,204.68 L663.60,204.84 L664.10,205.00 L664.60,205.15 L665.10,205.31 L665.60,205.46 L666.10,205.61 L666.60,205.75 L667.10,205.90 L667.60,206.04 L668.10,206.18 L668.60,206.32 L669.10,206.46 L669.60,206.59 L670.10,206.73 L670.60,206.86 L671.10,207.00 L671.60,207.13 L672.10,207.26 L672.60,207.39 L673.10,207.52 L673.60,207.64 L674.10,207.77 L674.60,207.89 L675.10,208.01 L675.60,208.13 L676.10,208.25 L676.60,208.37 L677.10,208.49 L677.60,208.60 L678.10,208.71 L678.40,208.78" stroke="#7800ee"/>
<path d="M506.40,218.50 L507.40,36.00 L507.60,35.77 L507.80,35.54 L508.00,35.30 L508.20,35.07 L508.40,34.83 L508.60,34.59 L508.80,34.35 L509.00,34.11 L509.20,33.87 L509.40,33.62 L509.60,33.37 L509.80,33.09 L510.00,32.78 L510.20,32.45 L510.40,32.11 L510.60,31.77 L510.80,31.43 L511.00,31.11 L511.20,30.81 L511.40,30.53 L511.60,30.30 L511.80,30.11 L512.00,29.98 L512.20,29.91 L512.40,29.93 L512.60,30.13 L512.80,30.48 L513.00,30.96 L513.20,31.50 L513.40,32.35 L513.60,33.66 L513.80,35.25 L514.00,36.96 L514.20,38.66 L514.40,40.54 L514.60,42.60 L514.80,44.79 L515.00,47.06 L515.20,49.36 L515.40,51.65 L515.60,53.88 L515.80,56.00 L516.00,57.98 L516.20,59.89 L516.40,61.81 L516.60,63.83 L516.80,66.04 L517.00,68.50 L517.20,71.08 L517.40,73.63 L517.60,76.00 L517.80,78.25 L518.00,80.50 L518.20,82.73 L518.40,84.90 L518.60,87.00 L518.80,88.98 L519.00,90.83 L519.20,92.51 L519.40,94.00 L519.60,95.34 L519.80,96.62 L520.00,97.82 L520.20,98.97 L520.40,100.06 L520.60,101.09 L520.80,102.08 L521.00,103.03 L521.20,103.94 L521.40,104.82 L521.60,105.67 L521.80,106.49 L522.00,107.30 L522.20,108.09 L522.40,108.86 L522.60,109.60 L522.80,110.32 L523.00,111.03 L523.20,111.72 L523.40,112.39 L523.60,113.04 L523.80,113.69 L524.00,114.31 L524.20,114.93 L524.40,115.54 L524.60,116.13 L524.80,116.72 L525.00,117.31 L525.20,117.88 L525.40,118.46 L525.60,119.03 L525.80,119.59 L526.00,120.16 L526.20,120.73 L526.40,121.30 L526.60,121.87 L526.80,122.44 L527.00,123.00 L527.20,123.56 L527.40,124.12 L527.60,124.67 L527.80,125.22 L528.00,125.77 L528.20,126.31 L528.40,126.85 L528.60,127.38 L528.80,127.91 L529.00,128.44 L529.20,128.96 L529.40,129.47 L529.60,129.98 L529.80,130.49 L530.00,130.99 L530.20,131.48 L530.40,131.97 L530.60,132.45 L530.80,132.92 L531.00,133.39 L531.20,133.85 L531.40,134.31 L531.60,134.76 L531.80,135.20 L532.00,135.64 L532.20,136.07 L532.40,136.50 L532.60,136.93 L532.80,137.36 L533.00,137.79 L533.20,138.21 L533.40,138.62 L533.60,139.04 L533.80,139.44 L534.00,139.85 L534.20,140.25 L534.40,140.64 L534.60,141.03 L534.80,141.41 L535.00,141.79 L535.20,142.16 L535.40,142.53 L535.60,142.89 L535.80,143.24 L536.00,143.59 L536.20,143.93 L536.40,144.26 L536.60,144.58 L536.80,144.89 L537.00,145.20 L537.20,145.50 L537.40,145.79 L537.90,146.50 L538.40,147.17 L538.90,147.82 L539.40,148.44 L539.90,149.04 L540.40,149.62 L540.90,150.19 L541.40,150.74 L541.90,151.28 L542.40,151.81 L542.90,152.34 L543.40,152.87 L543.90,153.40 L544.40,153.92 L544.90,154.41 L545.40,154.85 L545.90,155.29 L546.40,155.72 L546.90,156.15 L547.40,156.56 L547.90,156.98 L548.40,157.38 L548.90,157.78 L549.40,158.17 L549.90,158.56 L550.40,158.94 L550.90,159.32 L551.40,159.69 L551.90,160.06 L552.40,160.42 L552.90,160.77 L553.40,161.12 L553.90,161.47 L554.40,161.81 L554.90,162.15 L555.40,162.48 L555.90,162.81 L556.40,163.13 L556.90,163.45 L557.40,163.76 L557.90,164.09 L558.40,164.42 L558.90,164.77 L559.40,165.12 L559.90,165.48 L560.40,165.84 L560.90,166.21 L561.40,166.57 L561.90,166.93 L562.40,167.28 L562.90,167.62 L563.40,167.96 L563.90,168.28 L564.40,168.58 L564.90,168.87 L565.40,169.14 L565.90,169.39 L566.40,169.61 L566.90,169.80 L567.40,169.97 L567.90,170.10 L568.40,170.21 L568.90,170.27 L569.40,170.30 L569.90,170.28 L570.40,170.22 L570.90,170.12 L571.40,169.99 L571.90,169.84 L572.40,169.68 L572.90,169.53 L573.40,169.36 L573.90,169.13 L574.40,168.86 L574.90,168.59 L575.40,168.34 L575.90,168.14 L576.40,168.02 L576.90,168.01 L577.40,168.11 L577.90,168.32 L578.40,168.59 L578.90,168.92 L579.40,169.29 L579.90,170.04 L580.40,171.08 L580.90,172.09 L581.40,172.73 L581.90,172.81 L582.40,172.83 L582.90,172.84 L583.40,172.85 L583.90,172.86 L584.40,172.87 L584.90,172.87 L585.40,172.88 L585.90,172.90 L586.40,172.93 L586.90,172.96 L587.40,173.01 L587.90,173.08 L588.40,173.15 L588.90,173.24 L589.40,173.33 L589.90,173.44 L590.40,173.56 L590.90,173.68 L591.40,173.82 L591.90,173.96 L592.40,174.11 L592.90,174.27 L593.40,174.44 L593.90,174.61 L594.40,174.79 L594.90,174.97 L595.40,175.16 L595.90,175.36 L596.40,175.55 L596.90,175.75 L597.40,175.96 L597.90,176.17 L598.40,176.37 L598.90,176.59 L599.40,176.80 L599.90,177.01 L600.40,177.22 L600.90,177.44 L601.40,177.65 L601.90,177.86 L602.40,178.07 L602.90,178.28 L603.40,178.48 L603.90,178.69 L604.40,178.89 L604.90,179.08 L605.40,179.27 L605.90,179.46 L606.40,179.64 L606.90,179.82 L607.40,180.00 L607.90,180.18 L608.40,180.37 L608.90,180.55 L609.40,180.74 L609.90,180.93 L610.40,181.12 L610.90,181.32 L611.40,181.51 L611.90,181.71 L612.40,181.90 L612.90,182.10 L613.40,182.30 L613.90,182.50 L614.40,182.70 L614.90,182.90 L615.40,183.10 L615.90,183.30 L616.40,183.50 L616.90,183.70 L617.40,183.90 L617.90,184.11 L618.40,184.31 L618.90,184.51 L619.40,184.71 L619.90,184.91 L620.40,185.11 L620.90,185.31 L621.40,185.51 L621.90,185.71 L622.40,185.91 L622.90,186.11 L623.40,186.30 L623.90,186.50 L624.40,186.69 L624.90,186.88 L625.40,187.07 L625.90,187.26 L626.40,187.45 L626.90,187.64 L627.40,187.83 L627.90,188.03 L628.40,188.25 L628.90,188.47 L629.40,188.69 L629.90,188.92 L630.40,189.16 L630.90,189.39 L631.40,189.63 L631.90,189.87 L632.40,190.10 L632.90,190.34 L633.40,190.57 L633.90,190.79 L634.40,191.01 L634.90,191.22 L635.40,191.42 L635.90,191.61 L636.40,191.79 L636.90,191.96 L637.40,192.12 L637.90,192.25 L638.40,192.38 L638.90,192.48 L639.40,192.57 L639.90,192.63 L640.40,192.68 L640.90,192.70 L641.40,192.70 L641.90,192.68 L642.40,192.64 L642.90,192.58 L643.40,192.51 L643.90,192.42 L644.40,192.10 L644.90,191.32 L645.40,190.40 L645.90,189.73 L646.40,189.62 L646.90,189.86 L647.40,190.28 L647.90,190.80 L648.40,191.55 L648.90,192.64 L649.40,193.94 L649.90,195.62 L650.40,198.03 L650.90,199.77 L651.40,200.21 L651.90,200.55 L652.40,200.84 L652.90,201.10 L653.40,201.32 L653.90,201.51 L654.40,201.68 L654.90,201.82 L655.40,201.94 L655.90,202.06 L656.40,202.16 L656.90,202.26 L657.40,202.36 L657.90,202.47 L658.40,202.59 L658.90,202.72 L659.40,202.87 L659.90,203.03 L660.40,203.19 L660.90,203.36 L661.40,203.52 L661.90,203.68 L662.40,203.84 L662.90,203.99 L663.40,204.15 L663.90,204.30 L664.40,204.46 L664.90,204.61 L665.40,204.76 L665.90,204.91 L666.40,205.06 L666.90,205.20 L667.40,205.34 L667.90,205.48 L668.40,205.63 L668.90,205.76 L669.40,205.90 L669.90,206.04 L670.40,206.18 L670.90,206.31 L671.40,206.45 L671.90,206.58 L672.40,206.71 L672.90,206.84 L673.40,206.97 L673.90,207.10 L674.40,207.23 L674.90,207.36 L675.40,207.48 L675.90,207.60 L676.40,207.73 L676.90,207.85 L677.40,207.97 L677.90,208.08 L678.40,208.20" stroke="#7a007a"/>
</g>
<g stroke="#1a1a1a" stroke-width="0.85" fill="none">
<path d="M39.30,7.50 V219.30 H304.00"/>
</g>
<g stroke="#000" stroke-width="0.8" fill="none">
<path d="M39.30,219.30 h-4.2"/>
<path d="M39.30,184.08 h-4.2"/>
<path d="M39.30,148.87 h-4.2"/>
<path d="M39.30,113.65 h-4.2"/>
<path d="M39.30,78.43 h-4.2"/>
<path d="M39.30,43.22 h-4.2"/>
<path d="M39.30,8.00 h-4.2"/>
<path d="M39.30,219.30 v4.2"/>
<path d="M61.32,219.30 v4.2"/>
<path d="M83.33,219.30 v4.2"/>
<path d="M105.35,219.30 v4.2"/>
<path d="M127.37,219.30 v4.2"/>
<path d="M149.38,219.30 v4.2"/>
<path d="M171.40,219.30 v4.2"/>
<path d="M193.42,219.30 v4.2"/>
<path d="M215.43,219.30 v4.2"/>
<path d="M237.45,219.30 v4.2"/>
<path d="M259.47,219.30 v4.2"/>
<path d="M281.48,219.30 v4.2"/>
<path d="M303.50,219.30 v4.2"/>
</g>
<g stroke="#1a1a1a" stroke-width="0.85" fill="none">
<path d="M419.35,10.50 V218.50"/>
</g>
<g stroke="#000" stroke-width="0.7" fill="none">
<path d="M418.85,218.50 H678.90"/>
<path d="M419.35,218.50 h-4.2"/>
<path d="M419.35,197.75 h-4.2"/>
<path d="M419.35,177.00 h-4.2"/>
<path d="M419.35,156.25 h-4.2"/>
<path d="M419.35,135.50 h-4.2"/>
<path d="M419.35,114.75 h-4.2"/>
<path d="M419.35,94.00 h-4.2"/>
<path d="M419.35,73.25 h-4.2"/>
<path d="M419.35,52.50 h-4.2"/>
<path d="M419.35,31.75 h-4.2"/>
<path d="M419.35,11.00 h-4.2"/>
<path d="M419.35,218.50 v4.2"/>
<path d="M440.95,218.50 v4.2"/>
<path d="M462.54,218.50 v4.2"/>
<path d="M484.14,218.50 v4.2"/>
<path d="M505.73,218.50 v4.2"/>
<path d="M527.33,218.50 v4.2"/>
<path d="M548.92,218.50 v4.2"/>
<path d="M570.52,218.50 v4.2"/>
<path d="M592.12,218.50 v4.2"/>
<path d="M613.71,218.50 v4.2"/>
<path d="M635.31,218.50 v4.2"/>
<path d="M656.90,218.50 v4.2"/>
<path d="M678.50,218.50 v4.2"/>
</g>
<g font-size="8.8">
<text x="32.60" y="222.40" text-anchor="end">0</text>
<text x="32.60" y="187.18" text-anchor="end">10</text>
<text x="32.60" y="151.97" text-anchor="end">20</text>
<text x="32.60" y="116.75" text-anchor="end">30</text>
<text x="32.60" y="81.53" text-anchor="end">40</text>
<text x="32.60" y="46.32" text-anchor="end">50</text>
<text x="32.60" y="11.10" text-anchor="end">60</text>
<text x="39.10" y="233.40" text-anchor="middle">-50</text>
<text x="61.32" y="233.40" text-anchor="middle">0</text>
<text x="83.33" y="233.40" text-anchor="middle">50</text>
<text x="105.35" y="233.40" text-anchor="middle">100</text>
<text x="127.37" y="233.40" text-anchor="middle">150</text>
<text x="149.38" y="233.40" text-anchor="middle">200</text>
<text x="171.40" y="233.40" text-anchor="middle">250</text>
<text x="193.42" y="233.40" text-anchor="middle">300</text>
<text x="215.43" y="233.40" text-anchor="middle">350</text>
<text x="237.45" y="233.40" text-anchor="middle">400</text>
<text x="259.47" y="233.40" text-anchor="middle">450</text>
<text x="281.48" y="233.40" text-anchor="middle">500</text>
<text x="303.50" y="233.40" text-anchor="middle">550</text>
<text x="412.35" y="221.60" text-anchor="end">50</text>
<text x="412.35" y="200.85" text-anchor="end">100</text>
<text x="412.35" y="180.10" text-anchor="end">150</text>
<text x="412.35" y="159.35" text-anchor="end">200</text>
<text x="412.35" y="138.60" text-anchor="end">250</text>
<text x="412.35" y="117.85" text-anchor="end">300</text>
<text x="412.35" y="97.10" text-anchor="end">350</text>
<text x="412.35" y="76.35" text-anchor="end">400</text>
<text x="412.35" y="55.60" text-anchor="end">450</text>
<text x="412.35" y="34.85" text-anchor="end">500</text>
<text x="412.35" y="14.10" text-anchor="end">550</text>
<text x="419.15" y="232.60" text-anchor="middle">-50</text>
<text x="440.95" y="232.60" text-anchor="middle">0</text>
<text x="462.54" y="232.60" text-anchor="middle">50</text>
<text x="484.14" y="232.60" text-anchor="middle">100</text>
<text x="505.73" y="232.60" text-anchor="middle">150</text>
<text x="527.33" y="232.60" text-anchor="middle">200</text>
<text x="548.92" y="232.60" text-anchor="middle">250</text>
<text x="570.52" y="232.60" text-anchor="middle">300</text>
<text x="592.12" y="232.60" text-anchor="middle">350</text>
<text x="613.71" y="232.60" text-anchor="middle">400</text>
<text x="635.31" y="232.60" text-anchor="middle">450</text>
<text x="656.90" y="232.60" text-anchor="middle">500</text>
<text x="678.50" y="232.60" text-anchor="middle">550</text>
</g>
<g font-size="12.9">
<text x="168" y="250.4" text-anchor="middle">The distance from the goaf boundary (m)</text>
<text x="555.2" y="254.7" text-anchor="middle">The distance from the goaf boundary (m)</text>
<text transform="translate(9.5,100.2) rotate(-90)" text-anchor="middle" font-size="13">Vertical stress (MPa)</text>
<text transform="translate(387.9,92.9) rotate(-90)" text-anchor="middle">Elastic strain energy density(KJ/m<tspan font-size="8" dy="-4.2">3</tspan><tspan dy="4.2">)</tspan></text>
</g>
<g font-size="15.6">
<text x="163.5" y="282.5" text-anchor="middle">(a) Vertical stress</text>
<text x="531.5" y="282.5" text-anchor="middle">(b) Elastic energy</text>
</g>
<rect x="235.30" y="13.30" width="64.60" height="109.00" fill="#fff" stroke="#858585" stroke-width="0.85"/>
<g font-size="11">
<path d="M236.60,20.40 H260.90" stroke="#555" stroke-width="0.45" fill="none"/>
<text x="263.90" y="23.90">balance</text>
<path d="M236.60,33.97 H260.90" stroke="#e60a0a" stroke-width="0.45" fill="none"/>
<text x="263.90" y="37.47">150m</text>
<path d="M236.60,47.54 H260.90" stroke="#0a0ae0" stroke-width="0.45" fill="none"/>
<text x="263.90" y="51.04">175m</text>
<path d="M236.60,61.11 H260.90" stroke="#f040f0" stroke-width="0.4" fill="none"/>
<text x="263.90" y="64.61">200m</text>
<path d="M236.60,74.68 H260.90" stroke="#007800" stroke-width="0.45" fill="none"/>
<text x="263.90" y="78.18">225m</text>
<path d="M236.60,88.25 H260.90" stroke="#00007a" stroke-width="0.45" fill="none"/>
<text x="263.90" y="91.75">250m</text>
<path d="M236.60,101.82 H260.90" stroke="#7800ee" stroke-width="0.45" fill="none"/>
<text x="263.90" y="105.32">275m</text>
<path d="M236.60,115.39 H260.90" stroke="#a850a8" stroke-width="0.45" fill="none"/>
<text x="263.90" y="118.89">300m</text>
</g>
<rect x="611.50" y="14.40" width="63.40" height="107.90" fill="#fff" stroke="#858585" stroke-width="0.85"/>
<g font-size="11">
<path d="M612.90,21.90 H636.70" stroke="#a8a8a8" stroke-width="1.3" fill="none"/>
<text x="639.80" y="25.50">balance</text>
<path d="M612.90,35.20 H636.70" stroke="#e60a0a" stroke-width="0.45" fill="none"/>
<text x="639.80" y="38.80">150m</text>
<path d="M612.90,48.50 H636.70" stroke="#0a0ae0" stroke-width="0.45" fill="none"/>
<text x="639.80" y="52.10">175m</text>
<path d="M612.90,61.80 H636.70" stroke="#ea0aea" stroke-width="0.45" fill="none"/>
<text x="639.80" y="65.40">200m</text>
<path d="M612.90,75.10 H636.70" stroke="#007800" stroke-width="0.45" fill="none"/>
<text x="639.80" y="78.70">225m</text>
<path d="M612.90,88.40 H636.70" stroke="#00007a" stroke-width="0.45" fill="none"/>
<text x="639.80" y="92.00">250m</text>
<path d="M612.90,101.70 H636.70" stroke="#7800ee" stroke-width="0.45" fill="none"/>
<text x="639.80" y="105.30">275m</text>
<path d="M612.90,115.00 H636.70" stroke="#d9b3d9" stroke-width="1.4" fill="none"/>
<text x="639.80" y="118.60">300m</text>
</g>
</svg>
</body>
</html>
